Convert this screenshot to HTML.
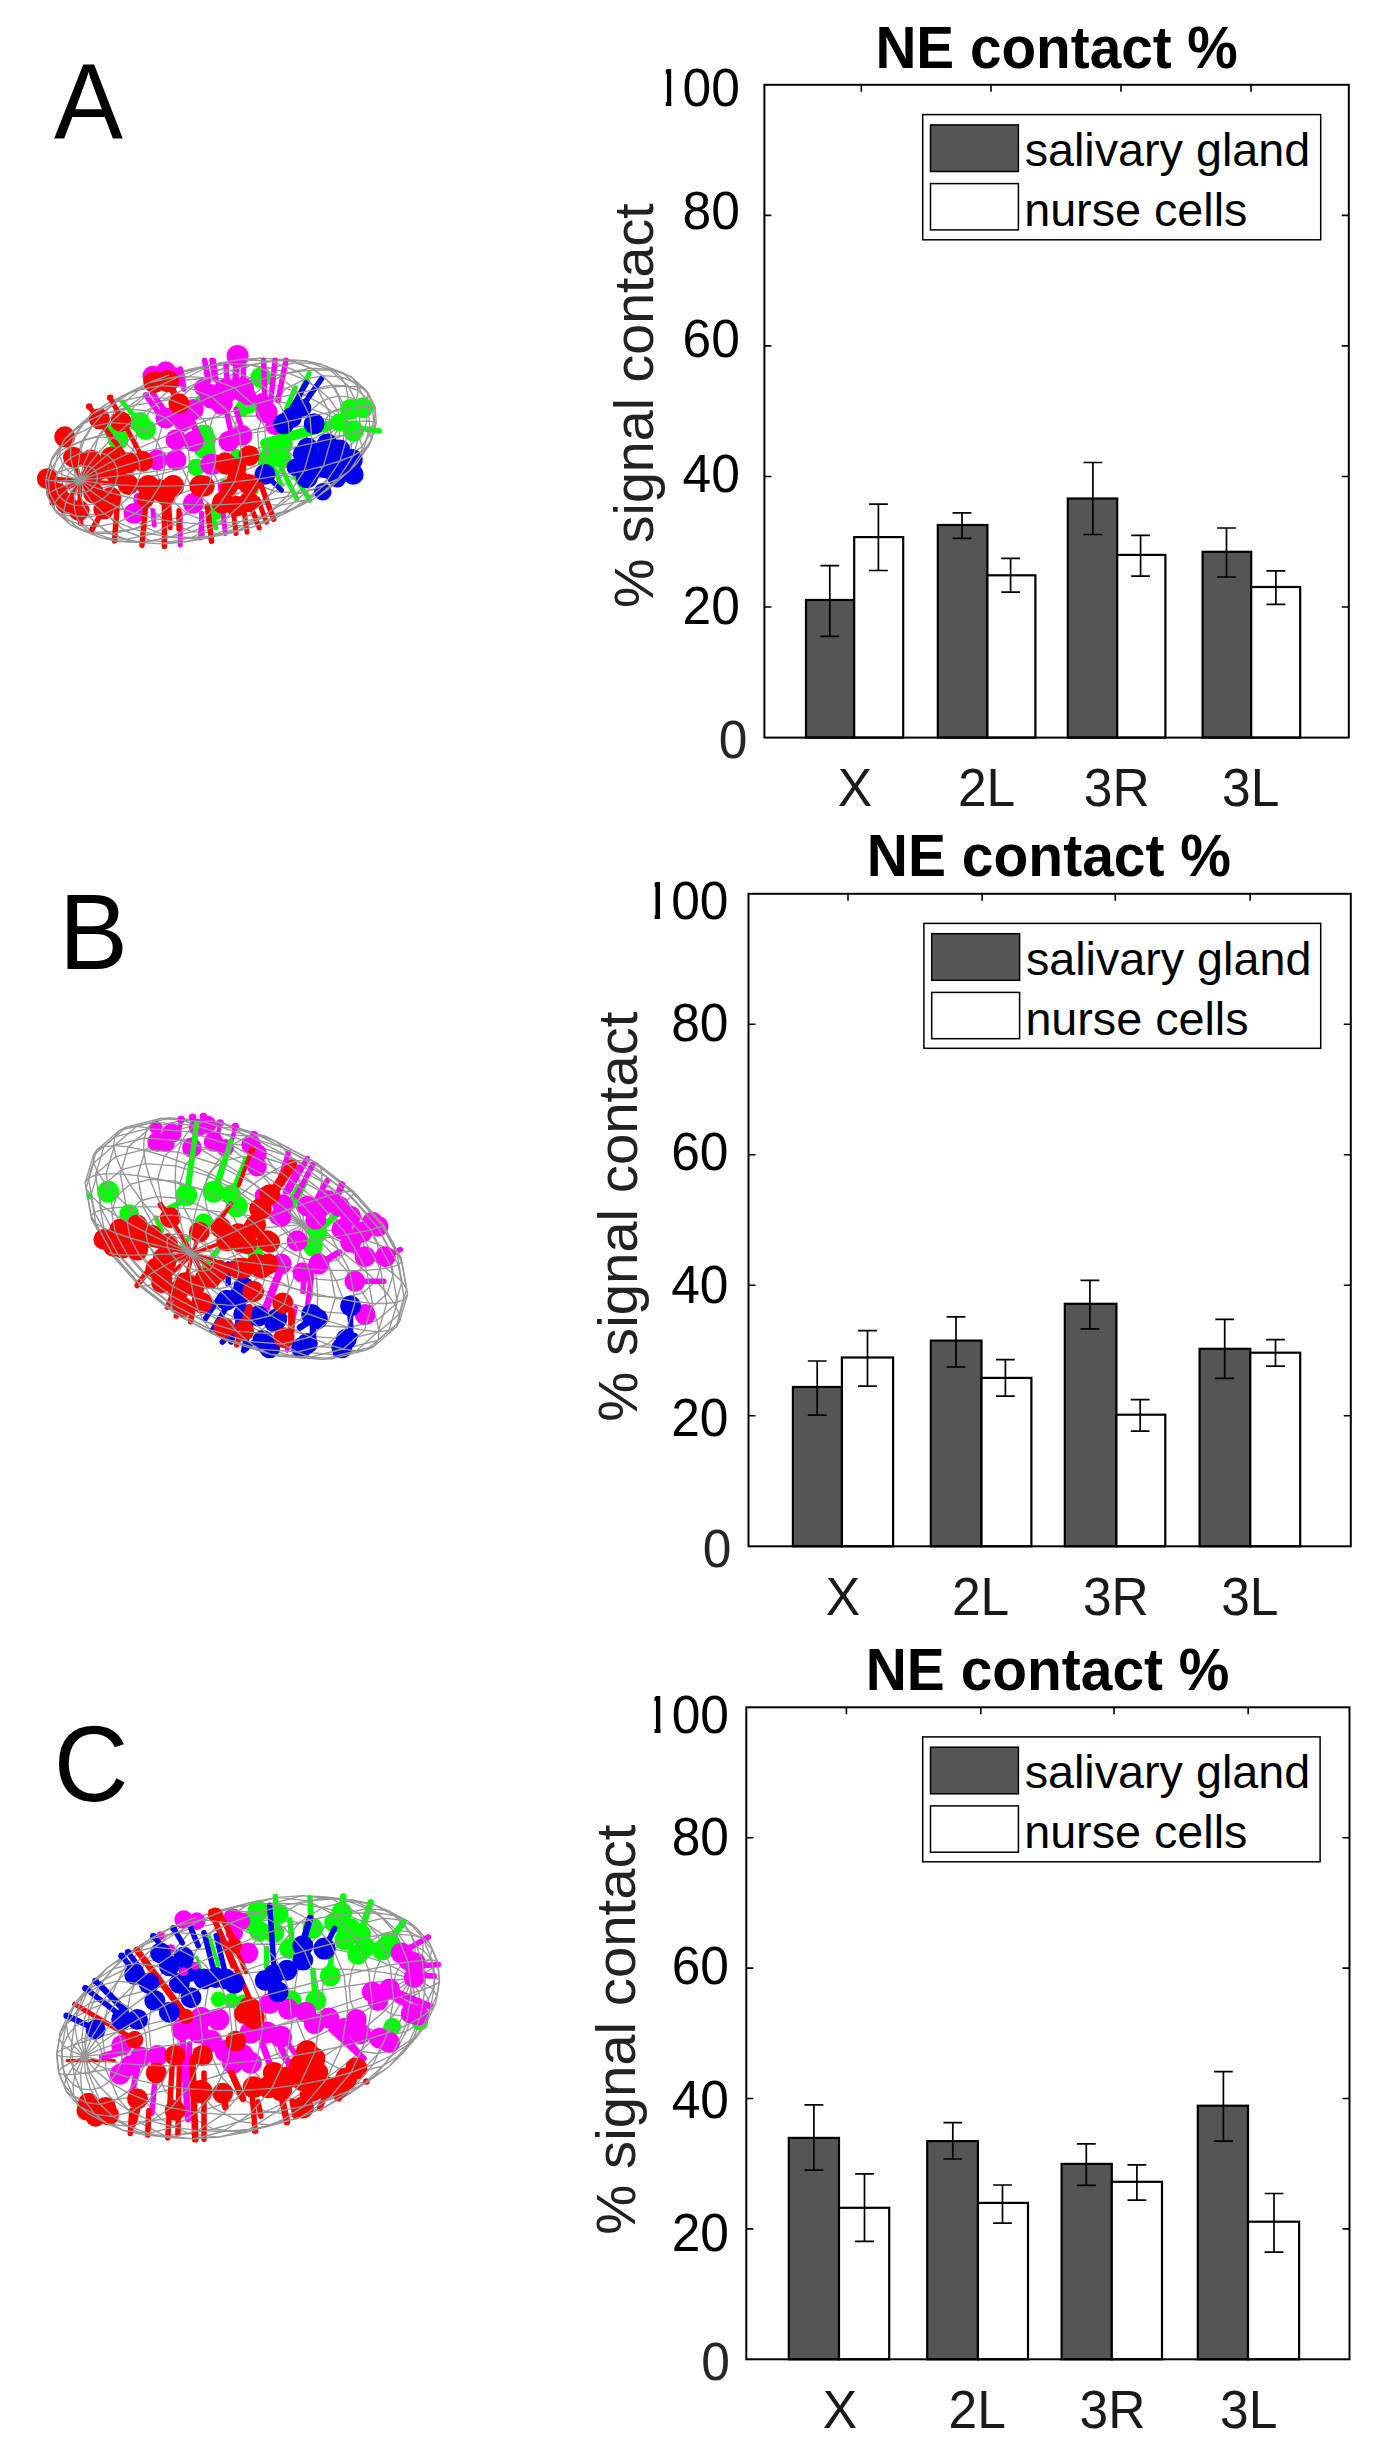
<!DOCTYPE html>
<html lang="en"><head><meta charset="utf-8"><title>NE contact figure</title>
<style>html,body{margin:0;padding:0;background:#fff}body{width:1384px;height:2446px;overflow:hidden}svg{display:block}text{font-family:'Liberation Sans', Arial, Helvetica, sans-serif}</style>
</head><body>
<svg width="1384" height="2446" viewBox="0 0 1384 2446">
<rect width="1384" height="2446" fill="#fff"/>
<text transform="translate(54.0 139.0) scale(1 1.045)" font-size="103.4">A</text>
<text transform="translate(59.0 968.7) scale(1 1.045)" font-size="103.4">B</text>
<text transform="translate(53.8 1800.5) scale(1 1.045)" font-size="103.4">C</text>
<g id="ellA" fill="none" stroke-linecap="round">
<path d="M48.4 496.0L53.9 496.0L63.3 495.0L76.4 492.8L92.7 489.7L112.0 485.6L133.7 480.6L157.3 474.9L182.3 468.6L207.9 461.9L233.6 454.9L258.8 447.9L282.8 440.9L305.0 434.1L324.9 427.8L342.0 422.0M47.0 477.0L52.3 474.3L61.6 471.0L74.5 467.3L90.8 463.1L110.0 458.7L131.8 454.1L155.4 449.4L180.5 444.7L206.3 440.2L232.2 435.9L257.6 432.1L281.9 428.7L304.4 425.8L324.6 423.6L342.0 422.0M52.5 457.4L58.7 451.9L68.6 446.4L82.0 441.0L98.6 435.9L117.9 431.1L139.6 426.8L163.0 423.1L187.5 420.1L212.7 417.8L237.8 416.4L262.3 415.8L285.5 416.1L306.8 417.3L325.8 419.2L342.0 422.0M72.4 431.2L83.7 423.5L98.2 416.6L115.4 410.5L134.9 405.4L156.3 401.4L179.1 398.7L202.7 397.2L226.4 397.1L249.8 398.3L272.3 400.7L293.2 404.5L312.1 409.3L328.5 415.2L342.0 422.0M105.5 404.6L121.4 396.4L139.5 389.5L159.4 384.2L180.5 380.5L202.4 378.5L224.5 378.3L246.2 379.9L267.1 383.3L286.6 388.3L304.3 394.8L319.6 402.8L332.3 411.9L342.0 422.0M168.7 375.1L188.9 369.5L209.6 366.0L230.4 364.5L250.8 365.2L270.1 368.0L288.0 372.9L304.0 379.6L317.7 388.2L328.8 398.2L336.9 409.6L342.0 422.0M260.6 358.2L279.0 359.3L295.7 362.6L310.4 368.1L322.6 375.7L332.1 385.1L338.5 396.2L341.9 408.6L342.0 422.0M320.6 364.2L332.1 369.5L340.7 376.8L346.0 386.0L348.0 396.8L346.7 408.9L342.0 422.0M351.1 376.8L356.4 382.9L358.2 390.7L356.3 400.0L350.9 410.5L342.0 422.0M368.3 393.4L367.4 398.8L362.6 405.5L354.0 413.3L342.0 422.0M375.2 407.2L372.7 409.5L366.2 412.7L355.9 416.9L342.0 422.0M376.3 423.0L373.6 421.7L366.8 421.0L356.2 421.2L342.0 422.0M371.7 439.2L370.0 434.2L364.4 429.6L354.9 425.5L342.0 422.0M357.4 462.7L361.7 454.3L362.3 445.9L359.1 437.5L352.3 429.5L342.0 422.0M329.8 488.0L340.1 477.7L347.3 466.8L351.2 455.5L351.5 444.1L348.5 432.8L342.0 422.0M272.5 519.5L290.2 510.4L305.9 499.9L319.3 488.1L330.0 475.4L337.8 462.2L342.4 448.6L343.8 435.1L342.0 422.0M181.1 542.6L201.5 539.2L222.1 533.6L242.4 525.9L262.0 516.4L280.3 505.3L296.9 492.8L311.4 479.4L323.4 465.2L332.6 450.7L338.9 436.2L342.0 422.0M115.6 541.0L132.2 542.0L150.7 540.7L170.7 537.3L191.7 531.7L213.2 524.1L234.6 514.7L255.4 503.7L275.1 491.5L293.3 478.2L309.4 464.3L323.1 450.1L334.1 435.8L342.0 422.0M79.7 529.4L91.8 531.8L106.7 532.1L124.3 530.5L143.9 526.9L165.2 521.4L187.7 514.2L210.7 505.4L233.7 495.3L256.2 484.1L277.6 472.1L297.3 459.6L314.9 446.9L329.9 434.2L342.0 422.0M56.6 512.6L63.4 515.0L73.7 515.9L87.5 515.2L104.3 512.9L123.7 509.1L145.3 503.8L168.5 497.3L192.7 489.6L217.4 480.9L241.9 471.6L265.7 461.7L288.1 451.5L308.6 441.4L326.7 431.4L342.0 422.0M48.4 496.0L47.0 477.0L52.5 457.4L64.6 439.3M56.6 512.6L48.4 496.0M53.9 496.0L52.3 474.3L58.7 451.9L72.4 431.2L92.2 414.0M79.7 529.4L63.4 515.0L53.9 496.0M63.3 495.0L61.6 471.0L68.6 446.4L83.7 423.5L105.5 404.6L131.8 391.6M115.6 541.0L91.8 531.8L73.7 515.9L63.3 495.0M76.4 492.8L74.5 467.3L82.0 441.0L98.2 416.6L121.4 396.4L149.5 382.5M132.2 542.0L106.7 532.1L87.5 515.2L76.4 492.8M92.7 489.7L90.8 463.1L98.6 435.9L115.4 410.5L139.5 389.5L168.7 375.1L199.9 368.4M181.1 542.6L150.7 540.7L124.3 530.5L104.3 512.9L92.7 489.7M112.0 485.6L110.0 458.7L117.9 431.1L134.9 405.4L159.4 384.2L188.9 369.5L220.5 362.8M201.5 539.2L170.7 537.3L143.9 526.9L123.7 509.1L112.0 485.6M133.7 480.6L131.8 454.1L139.6 426.8L156.3 401.4L180.5 380.5L209.6 366.0L240.9 359.4M222.1 533.6L191.7 531.7L165.2 521.4L145.3 503.8L133.7 480.6M157.3 474.9L155.4 449.4L163.0 423.1L179.1 398.7L202.4 378.5L230.4 364.5L260.6 358.2L289.8 360.0M272.5 519.5L242.4 525.9L213.2 524.1L187.7 514.2L168.5 497.3L157.3 474.9M182.3 468.6L180.5 444.7L187.5 420.1L202.7 397.2L224.5 378.3L250.8 365.2L279.0 359.3L306.4 361.0M290.2 510.4L262.0 516.4L234.6 514.7L210.7 505.4L192.7 489.6L182.3 468.6M207.9 461.9L206.3 440.2L212.7 417.8L226.4 397.1L246.2 379.9L270.1 368.0L295.7 362.6L320.6 364.2L342.3 372.6M329.8 488.0L305.9 499.9L280.3 505.3L255.4 503.7L233.7 495.3L217.4 480.9L207.9 461.9M233.6 454.9L232.2 435.9L237.8 416.4L249.8 398.3L267.1 383.3L288.0 372.9L310.4 368.1L332.1 369.5L351.1 376.8L365.4 389.4M357.4 462.7L340.1 477.7L319.3 488.1L296.9 492.8L275.1 491.5L256.2 484.1L241.9 471.6L233.6 454.9M258.8 447.9L257.6 432.1L262.3 415.8L272.3 400.7L286.6 388.3L304.0 379.6L322.6 375.7L340.7 376.8L356.4 382.9L368.3 393.4L375.2 407.2L376.3 423.0L371.7 439.2L361.7 454.3L347.3 466.8L330.0 475.4L311.4 479.4L293.3 478.2L277.6 472.1L265.7 461.7L258.8 447.9M282.8 440.9L281.9 428.7L285.5 416.1L293.2 404.5L304.3 394.8L317.7 388.2L332.1 385.1L346.0 386.0L358.2 390.7L367.4 398.8L372.7 409.5L373.6 421.7L370.0 434.2L362.3 445.9L351.2 455.5L337.8 462.2L323.4 465.2L309.4 464.3L297.3 459.6L288.1 451.5L282.8 440.9M305.0 434.1L304.4 425.8L306.8 417.3L312.1 409.3L319.6 402.8L328.8 398.2L338.5 396.2L348.0 396.8L356.3 400.0L362.6 405.5L366.2 412.7L366.8 421.0L364.4 429.6L359.1 437.5L351.5 444.1L342.4 448.6L332.6 450.7L323.1 450.1L314.9 446.9L308.6 441.4L305.0 434.1M324.9 427.8L324.6 423.6L325.8 419.2L328.5 415.2L332.3 411.9L336.9 409.6L341.9 408.6L346.7 408.9L350.9 410.5L354.0 413.3L355.9 416.9L356.2 421.2L354.9 425.5L352.3 429.5L348.5 432.8L343.8 435.1L338.9 436.2L334.1 435.8L329.9 434.2L326.7 431.4L324.9 427.8" stroke="#969696" stroke-width="1.35" stroke-linejoin="round"/>
<path d="M139.8 422.4L122.5 402.1" stroke="#0f0" stroke-width="4.95"/>
<circle cx="139.8" cy="422.4" r="10.450000000000001" fill="#0f0"/>
<circle cx="145.6" cy="429.6" r="10.450000000000001" fill="#0f0"/>
<circle cx="118.2" cy="439.7" r="10.450000000000001" fill="#0f0"/>
<circle cx="112.4" cy="432.5" r="7.700000000000001" fill="#0f0"/>
<circle cx="205.6" cy="439.7" r="10.450000000000001" fill="#0f0"/>
<circle cx="202.0" cy="432.5" r="7.700000000000001" fill="#0f0"/>
<circle cx="196.2" cy="467.2" r="8.8" fill="#0f0"/>
<circle cx="200.5" cy="400.7" r="5.5" fill="#0f0"/>
<circle cx="216.4" cy="512.0" r="7.700000000000001" fill="#0f0"/>
<circle cx="207.7" cy="451.3" r="7.700000000000001" fill="#0f0"/>
<circle cx="260.7" cy="377.6" r="10.450000000000001" fill="#0f0"/>
<circle cx="247.7" cy="403.6" r="10.450000000000001" fill="#0f0"/>
<circle cx="241.9" cy="409.4" r="7.700000000000001" fill="#0f0"/>
<circle cx="272.3" cy="449.8" r="10.450000000000001" fill="#0f0"/>
<circle cx="280.9" cy="457.1" r="10.450000000000001" fill="#0f0"/>
<circle cx="267.9" cy="459.9" r="10.450000000000001" fill="#0f0"/>
<circle cx="282.4" cy="444.0" r="10.450000000000001" fill="#0f0"/>
<path d="M265.0 443.3L330.1 425.3" stroke="#0f0" stroke-width="9.9"/>
<path d="M292.5 420.9L304.0 407.9" stroke="#0f0" stroke-width="7.700000000000001"/>
<path d="M295.4 387.7L286.7 407.9" stroke="#0f0" stroke-width="4.95"/>
<path d="M309.1 373.2L298.3 397.8" stroke="#0f0" stroke-width="4.95"/>
<path d="M280.9 467.2L296.8 499.0" stroke="#0f0" stroke-width="4.95"/>
<path d="M289.6 467.2L309.8 500.4" stroke="#0f0" stroke-width="4.95"/>
<path d="M275.1 470.1L280.9 484.5" stroke="#0f0" stroke-width="4.95"/>
<circle cx="350.3" cy="409.4" r="10.450000000000001" fill="#0f0"/>
<circle cx="362.6" cy="407.9" r="10.450000000000001" fill="#0f0"/>
<circle cx="353.2" cy="431.0" r="10.450000000000001" fill="#0f0"/>
<circle cx="338.7" cy="422.4" r="8.8" fill="#0f0"/>
<path d="M330.1 423.8L379.2 431.0" stroke="#0f0" stroke-width="5.5"/>
<path d="M327.2 425.3L367.6 405.0" stroke="#0f0" stroke-width="5.5"/>
<circle cx="204.3" cy="448.4" r="10.450000000000001" fill="#0f0"/>
<circle cx="205.8" cy="432.5" r="7.700000000000001" fill="#0f0"/>
<circle cx="236.1" cy="454.2" r="5.5" fill="#0f0"/>
<path d="M223.1 481.6L228.9 493.2" stroke="#0f0" stroke-width="4.95"/>
<path d="M247.7 486.0L256.4 491.7" stroke="#0f0" stroke-width="4.4"/>
<circle cx="213.0" cy="513.4" r="6.6000000000000005" fill="#0f0"/>
<path d="M211.6 510.5L215.9 527.9" stroke="#0f0" stroke-width="4.95"/>
<circle cx="152.8" cy="376.1" r="10.450000000000001" fill="#f0f"/>
<circle cx="165.8" cy="371.8" r="10.450000000000001" fill="#f0f"/>
<circle cx="174.5" cy="377.6" r="10.450000000000001" fill="#f0f"/>
<path d="M180.3 368.9L183.9 389.1" stroke="#f0f" stroke-width="5.5"/>
<path d="M204.9 360.2L209.2 380.5" stroke="#f0f" stroke-width="4.95"/>
<path d="M213.5 360.2L216.4 380.5" stroke="#f0f" stroke-width="4.95"/>
<path d="M145.6 394.9L160.1 415.1" stroke="#f0f" stroke-width="5.5"/>
<path d="M152.8 393.5L165.8 412.3" stroke="#f0f" stroke-width="5.5"/>
<circle cx="165.8" cy="418.0" r="10.450000000000001" fill="#f0f"/>
<circle cx="193.3" cy="409.4" r="10.450000000000001" fill="#f0f"/>
<circle cx="183.2" cy="420.9" r="10.450000000000001" fill="#f0f"/>
<circle cx="176.0" cy="439.7" r="10.450000000000001" fill="#f0f"/>
<circle cx="193.3" cy="441.2" r="10.450000000000001" fill="#f0f"/>
<circle cx="157.2" cy="459.9" r="10.450000000000001" fill="#f0f"/>
<circle cx="176.0" cy="459.9" r="10.450000000000001" fill="#f0f"/>
<circle cx="210.6" cy="464.3" r="10.450000000000001" fill="#f0f"/>
<path d="M191.8 420.9L200.5 441.2" stroke="#f0f" stroke-width="6.6000000000000005"/>
<circle cx="134.0" cy="513.4" r="10.450000000000001" fill="#f0f"/>
<path d="M152.8 510.5L154.3 525.0" stroke="#f0f" stroke-width="4.95"/>
<path d="M180.3 513.4L180.3 545.2" stroke="#f0f" stroke-width="4.95"/>
<path d="M202.0 513.4L200.5 538.0" stroke="#f0f" stroke-width="4.95"/>
<circle cx="193.3" cy="503.3" r="10.450000000000001" fill="#f0f"/>
<circle cx="139.8" cy="499.0" r="6.6000000000000005" fill="#f0f"/>
<circle cx="237.6" cy="355.9" r="11.0" fill="#f0f"/>
<path d="M236.8 355.9L235.4 383.4" stroke="#f0f" stroke-width="6.6000000000000005"/>
<path d="M243.4 361.7L243.4 383.4" stroke="#f0f" stroke-width="5.5"/>
<path d="M211.6 360.2L214.5 379.0" stroke="#f0f" stroke-width="4.95"/>
<path d="M204.3 360.2L207.2 377.6" stroke="#f0f" stroke-width="4.95"/>
<path d="M226.0 366.0L227.5 383.4" stroke="#f0f" stroke-width="5.5"/>
<path d="M263.6 360.2L265.0 400.7" stroke="#f0f" stroke-width="5.5"/>
<path d="M275.1 360.2L270.8 400.7" stroke="#f0f" stroke-width="5.5"/>
<path d="M286.0 360.2L278.0 400.7" stroke="#f0f" stroke-width="5.5"/>
<circle cx="211.6" cy="396.4" r="12.100000000000001" fill="#f0f"/>
<circle cx="226.0" cy="390.6" r="12.100000000000001" fill="#f0f"/>
<circle cx="241.9" cy="389.1" r="12.100000000000001" fill="#f0f"/>
<circle cx="221.7" cy="403.6" r="11.0" fill="#f0f"/>
<circle cx="247.7" cy="396.4" r="8.8" fill="#f0f"/>
<circle cx="202.9" cy="387.7" r="8.8" fill="#f0f"/>
<circle cx="266.5" cy="412.3" r="11.0" fill="#f0f"/>
<circle cx="275.1" cy="425.3" r="9.9" fill="#f0f"/>
<circle cx="262.1" cy="400.7" r="7.700000000000001" fill="#f0f"/>
<circle cx="228.9" cy="441.2" r="10.450000000000001" fill="#f0f"/>
<circle cx="241.9" cy="435.4" r="10.450000000000001" fill="#f0f"/>
<path d="M226.0 409.4L231.1 432.5" stroke="#f0f" stroke-width="5.5"/>
<path d="M236.1 409.4L241.9 429.6" stroke="#f0f" stroke-width="5.5"/>
<circle cx="213.0" cy="464.3" r="10.450000000000001" fill="#f0f"/>
<path d="M220.2 484.5L225.3 533.6" stroke="#f0f" stroke-width="4.95"/>
<path d="M201.4 513.4L202.2 535.1" stroke="#f0f" stroke-width="4.95"/>
<path d="M321.4 379.0L301.2 407.9" stroke="#00e" stroke-width="5.5"/>
<path d="M306.9 381.9L289.6 412.3" stroke="#00e" stroke-width="5.5"/>
<circle cx="283.8" cy="423.8" r="10.450000000000001" fill="#00e"/>
<circle cx="302.6" cy="407.9" r="8.8" fill="#00e"/>
<circle cx="314.2" cy="423.8" r="10.450000000000001" fill="#00e"/>
<circle cx="327.2" cy="444.0" r="10.450000000000001" fill="#00e"/>
<circle cx="304.0" cy="454.2" r="11.0" fill="#00e"/>
<circle cx="351.7" cy="459.9" r="11.0" fill="#00e"/>
<circle cx="353.2" cy="474.4" r="10.450000000000001" fill="#00e"/>
<circle cx="306.9" cy="477.3" r="11.0" fill="#00e"/>
<circle cx="325.7" cy="467.2" r="11.0" fill="#00e"/>
<circle cx="338.7" cy="455.6" r="8.8" fill="#00e"/>
<path d="M265.0 474.4L281.6 490.3" stroke="#00e" stroke-width="4.95"/>
<circle cx="265.0" cy="474.4" r="10.450000000000001" fill="#00e"/>
<circle cx="322.8" cy="491.7" r="8.8" fill="#00e"/>
<circle cx="337.3" cy="478.7" r="8.8" fill="#00e"/>
<circle cx="295.4" cy="467.2" r="8.8" fill="#00e"/>
<circle cx="307.6" cy="448.0" r="10.450000000000001" fill="#00e"/>
<circle cx="323.8" cy="458.1" r="10.450000000000001" fill="#00e"/>
<circle cx="339.9" cy="450.0" r="10.450000000000001" fill="#00e"/>
<circle cx="311.6" cy="470.2" r="10.450000000000001" fill="#00e"/>
<circle cx="335.9" cy="474.3" r="10.450000000000001" fill="#00e"/>
<circle cx="291.4" cy="417.6" r="10.450000000000001" fill="#00e"/>
<circle cx="345.0" cy="462.0" r="10.450000000000001" fill="#00e"/>
<circle cx="64.7" cy="436.8" r="10.450000000000001" fill="#f00"/>
<path d="M47.3 478.7L80.6 480.9" stroke="#f00" stroke-width="4.95"/>
<circle cx="47.3" cy="478.7" r="10.450000000000001" fill="#f00"/>
<path d="M73.4 457.1L80.6 480.9" stroke="#f00" stroke-width="4.4"/>
<circle cx="73.4" cy="457.1" r="10.450000000000001" fill="#f00"/>
<path d="M90.7 459.9L80.6 480.9" stroke="#f00" stroke-width="4.4"/>
<circle cx="90.7" cy="459.9" r="10.450000000000001" fill="#f00"/>
<path d="M110.9 457.1L80.6 480.9" stroke="#f00" stroke-width="4.4"/>
<circle cx="110.9" cy="457.1" r="10.450000000000001" fill="#f00"/>
<path d="M128.3 462.8L80.6 480.9" stroke="#f00" stroke-width="4.4"/>
<circle cx="128.3" cy="462.8" r="10.450000000000001" fill="#f00"/>
<path d="M142.7 461.4L80.6 480.9" stroke="#f00" stroke-width="4.4"/>
<circle cx="142.7" cy="461.4" r="10.450000000000001" fill="#f00"/>
<path d="M128.3 484.5L80.6 480.9" stroke="#f00" stroke-width="4.4"/>
<circle cx="128.3" cy="484.5" r="10.450000000000001" fill="#f00"/>
<path d="M57.5 493.2L80.6 480.9" stroke="#f00" stroke-width="4.4"/>
<circle cx="57.5" cy="493.2" r="10.450000000000001" fill="#f00"/>
<path d="M66.1 503.3L80.6 480.9" stroke="#f00" stroke-width="4.4"/>
<circle cx="66.1" cy="503.3" r="10.450000000000001" fill="#f00"/>
<path d="M79.1 510.5L80.6 480.9" stroke="#f00" stroke-width="4.4"/>
<circle cx="79.1" cy="510.5" r="10.450000000000001" fill="#f00"/>
<path d="M103.7 509.1L80.6 480.9" stroke="#f00" stroke-width="4.4"/>
<circle cx="103.7" cy="509.1" r="10.450000000000001" fill="#f00"/>
<path d="M110.9 497.5L80.6 480.9" stroke="#f00" stroke-width="4.4"/>
<circle cx="110.9" cy="497.5" r="10.450000000000001" fill="#f00"/>
<path d="M97.9 470.1L80.6 480.9" stroke="#f00" stroke-width="4.4"/>
<circle cx="97.9" cy="470.1" r="10.450000000000001" fill="#f00"/>
<path d="M116.7 474.4L80.6 480.9" stroke="#f00" stroke-width="4.4"/>
<circle cx="116.7" cy="474.4" r="10.450000000000001" fill="#f00"/>
<path d="M93.6 493.2L80.6 480.9" stroke="#f00" stroke-width="4.4"/>
<circle cx="93.6" cy="493.2" r="10.450000000000001" fill="#f00"/>
<circle cx="99.4" cy="418.8" r="10.450000000000001" fill="#f00"/>
<circle cx="121.0" cy="421.6" r="10.450000000000001" fill="#f00"/>
<path d="M89.2 406.5L123.9 454.2" stroke="#f00" stroke-width="4.95"/>
<path d="M110.2 397.8L141.3 455.6" stroke="#f00" stroke-width="4.95"/>
<circle cx="89.2" cy="406.5" r="3.3000000000000003" fill="#f00"/>
<circle cx="110.2" cy="397.8" r="3.3000000000000003" fill="#f00"/>
<circle cx="154.3" cy="381.9" r="11.0" fill="#f00"/>
<circle cx="168.0" cy="381.2" r="11.0" fill="#f00"/>
<circle cx="178.8" cy="403.6" r="10.450000000000001" fill="#f00"/>
<path d="M171.6 387.7L177.4 400.7" stroke="#f00" stroke-width="6.6000000000000005"/>
<path d="M117.4 503.3L114.5 540.9" stroke="#f00" stroke-width="5.5"/>
<path d="M145.6 506.2L142.0 545.2" stroke="#f00" stroke-width="5.5"/>
<path d="M164.4 501.8L164.4 546.6" stroke="#f00" stroke-width="5.5"/>
<path d="M178.8 510.5L178.8 529.3" stroke="#f00" stroke-width="4.95"/>
<path d="M207.7 506.2L211.4 541.6" stroke="#f00" stroke-width="4.95"/>
<path d="M103.7 509.1L92.1 529.3" stroke="#f00" stroke-width="5.5"/>
<path d="M79.1 510.5L80.6 523.5" stroke="#f00" stroke-width="5.5"/>
<path d="M168.7 501.8L170.2 527.9" stroke="#f00" stroke-width="4.95"/>
<path d="M66.1 503.3L51.7 503.3" stroke="#f00" stroke-width="4.4"/>
<circle cx="148.5" cy="486.0" r="11.0" fill="#f00"/>
<circle cx="173.1" cy="486.0" r="11.0" fill="#f00"/>
<circle cx="160.1" cy="490.3" r="11.0" fill="#f00"/>
<circle cx="200.5" cy="486.0" r="11.0" fill="#f00"/>
<circle cx="222.2" cy="503.3" r="10.450000000000001" fill="#f00"/>
<circle cx="225.1" cy="462.8" r="10.450000000000001" fill="#f00"/>
<circle cx="145.6" cy="499.0" r="8.8" fill="#f00"/>
<circle cx="165.8" cy="497.5" r="8.8" fill="#f00"/>
<circle cx="249.1" cy="455.6" r="10.450000000000001" fill="#f00"/>
<circle cx="226.0" cy="464.3" r="10.450000000000001" fill="#f00"/>
<circle cx="237.6" cy="478.7" r="10.450000000000001" fill="#f00"/>
<circle cx="249.1" cy="484.5" r="10.450000000000001" fill="#f00"/>
<circle cx="223.1" cy="501.8" r="10.450000000000001" fill="#f00"/>
<circle cx="236.1" cy="506.2" r="10.450000000000001" fill="#f00"/>
<circle cx="249.1" cy="501.8" r="10.450000000000001" fill="#f00"/>
<circle cx="204.3" cy="486.0" r="10.450000000000001" fill="#f00"/>
<circle cx="237.6" cy="467.2" r="8.8" fill="#f00"/>
<circle cx="228.9" cy="487.4" r="8.8" fill="#f00"/>
<path d="M260.7 484.5L273.7 519.2" stroke="#f00" stroke-width="5.5"/>
<path d="M249.1 501.8L259.2 527.9" stroke="#f00" stroke-width="4.95"/>
<path d="M243.4 506.2L247.0 532.2" stroke="#f00" stroke-width="4.95"/>
<path d="M233.2 510.5L236.1 533.6" stroke="#f00" stroke-width="4.95"/>
<path d="M207.2 506.2L211.6 540.9" stroke="#f00" stroke-width="5.5"/>
<path d="M257.8 499.0L266.5 522.1" stroke="#f00" stroke-width="4.95"/>
<path d="M80.0 480.0L66.1 485.1L55.8 489.3L49.3 492.5L46.8 494.8L48.4 496.0M80.0 480.0L65.8 480.8L55.2 481.0L48.4 480.3L45.7 479.0L47.0 477.0M80.0 480.0L67.1 476.5L57.6 472.4L52.0 467.8L50.3 462.8L52.5 457.4M80.0 480.0L69.7 472.5L62.9 464.5L59.7 456.1L60.3 447.7L64.6 439.3L72.4 431.2M80.0 480.0L73.5 469.2L70.5 457.9L70.8 446.5L74.7 435.2L81.9 424.3L92.2 414.0L105.5 404.6M80.0 480.0L78.2 466.9L79.6 453.4L84.2 439.8L92.0 426.6L102.7 413.9L116.1 402.1L131.8 391.6L149.5 382.5L168.7 375.1M80.0 480.0L83.1 465.8L89.4 451.3L98.6 436.8L110.6 422.6L125.1 409.2L141.7 396.7L160.0 385.6L179.6 376.1L199.9 368.4L220.5 362.8L240.9 359.4L260.6 358.2M80.0 480.0L87.9 466.2L98.9 451.9L112.6 437.7L128.7 423.8L146.9 410.5L166.6 398.3L187.4 387.3L208.8 377.9L230.3 370.3L251.3 364.7L271.3 361.3L289.8 360.0L306.4 361.0L320.6 364.2M80.0 480.0L92.1 467.8L107.1 455.1L124.7 442.4L144.4 429.9L165.8 417.9L188.3 406.7L211.3 396.6L234.3 387.8L256.8 380.6L278.1 375.1L297.7 371.5L315.3 369.9L330.2 370.2L342.3 372.6L351.1 376.8M80.0 480.0L95.3 470.6L113.4 460.6L133.9 450.5L156.3 440.3L180.1 430.4L204.6 421.1L229.3 412.4L253.5 404.7L276.7 398.2L298.3 392.9L317.7 389.1L334.5 386.8L348.3 386.1L358.6 387.0L365.4 389.4L368.3 393.4M80.0 480.0L97.1 474.2L117.0 467.9L139.2 461.1L163.2 454.1L188.4 447.1L214.1 440.1L239.7 433.4L264.7 427.1L288.3 421.4L310.0 416.4L329.3 412.3L345.6 409.2L358.7 407.0L368.1 406.0L373.6 406.0L375.2 407.2M80.0 480.0L97.4 478.4L117.6 476.2L140.1 473.3L164.4 469.9L189.8 466.1L215.7 461.8L241.5 457.3L266.6 452.6L290.2 447.9L312.0 443.3L331.2 438.9L347.5 434.7L360.4 431.0L369.7 427.7L375.0 425.0L376.3 423.0M80.0 480.0L96.2 482.8L115.2 484.7L136.5 485.9L159.7 486.2L184.2 485.6L209.3 484.2L234.5 481.9L259.0 478.9L282.4 475.2L304.1 470.9L323.4 466.1L340.0 461.0L353.4 455.6L363.3 450.1L369.5 444.6L371.7 439.2M80.0 480.0L93.5 486.8L109.9 492.7L128.8 497.5L149.7 501.3L172.2 503.7L195.6 504.9L219.3 504.8L242.9 503.3L265.7 500.6L287.1 496.6L306.6 491.5L323.8 485.4L338.3 478.5L349.6 470.8L357.4 462.7M80.0 480.0L89.7 490.1L102.4 499.2L117.7 507.2L135.4 513.7L154.9 518.7L175.8 522.1L197.5 523.7L219.6 523.5L241.5 521.5L262.6 517.8L282.5 512.5L300.6 505.6L316.5 497.4L329.8 488.0M80.0 480.0L85.1 492.4L93.2 503.8L104.3 513.8L118.0 522.4L134.0 529.1L151.9 534.0L171.2 536.8L191.6 537.5L212.4 536.0L233.1 532.5L253.3 526.9L272.5 519.5M80.0 480.0L80.1 493.4L83.5 505.8L89.9 516.9L99.4 526.3L111.6 533.9L126.3 539.4L143.0 542.7L161.4 543.8L181.1 542.6M80.0 480.0L75.3 493.1L74.0 505.2L76.0 516.0L81.3 525.2L89.9 532.5L101.4 537.8L115.6 541.0M80.0 480.0L71.1 491.5L65.7 502.0L63.8 511.3L65.6 519.1L70.9 525.2L79.7 529.4M80.0 480.0L68.0 488.7L59.4 496.5L54.6 503.2L53.7 508.6L56.6 512.6M66.1 485.1L65.8 480.8L67.1 476.5L69.7 472.5L73.5 469.2L78.2 466.9L83.1 465.8L87.9 466.2L92.1 467.8L95.3 470.6L97.1 474.2L97.4 478.4L96.2 482.8L93.5 486.8L89.7 490.1L85.1 492.4L80.1 493.4L75.3 493.1L71.1 491.5L68.0 488.7L66.1 485.1M55.8 489.3L55.2 481.0L57.6 472.4L62.9 464.5L70.5 457.9L79.6 453.4L89.4 451.3L98.9 451.9L107.1 455.1L113.4 460.6L117.0 467.9L117.6 476.2L115.2 484.7L109.9 492.7L102.4 499.2L93.2 503.8L83.5 505.8L74.0 505.2L65.7 502.0L59.4 496.5L55.8 489.3M49.3 492.5L48.4 480.3L52.0 467.8L59.7 456.1L70.8 446.5L84.2 439.8L98.6 436.8L112.6 437.7L124.7 442.4L133.9 450.5L139.2 461.1L140.1 473.3L136.5 485.9L128.8 497.5L117.7 507.2L104.3 513.8L89.9 516.9L76.0 516.0L63.8 511.3L54.6 503.2L49.3 492.5M46.8 494.8L45.7 479.0L50.3 462.8L60.3 447.7L74.7 435.2L92.0 426.6L110.6 422.6L128.7 423.8L144.4 429.9L156.3 440.3L163.2 454.1L164.4 469.9L159.7 486.2L149.7 501.3L135.4 513.7L118.0 522.4L99.4 526.3L81.3 525.2L65.6 519.1L53.7 508.6L46.8 494.8M64.6 439.3L81.9 424.3L102.7 413.9L125.1 409.2L146.9 410.5L165.8 417.9L180.1 430.4L188.4 447.1L189.8 466.1L184.2 485.6L172.2 503.7L154.9 518.7L134.0 529.1L111.6 533.9L89.9 532.5L70.9 525.2L56.6 512.6M92.2 414.0L116.1 402.1L141.7 396.7L166.6 398.3L188.3 406.7L204.6 421.1L214.1 440.1L215.7 461.8L209.3 484.2L195.6 504.9L175.8 522.1L151.9 534.0L126.3 539.4L101.4 537.8L79.7 529.4M131.8 391.6L160.0 385.6L187.4 387.3L211.3 396.6L229.3 412.4L239.7 433.4L241.5 457.3L234.5 481.9L219.3 504.8L197.5 523.7L171.2 536.8L143.0 542.7L115.6 541.0M149.5 382.5L179.6 376.1L208.8 377.9L234.3 387.8L253.5 404.7L264.7 427.1L266.6 452.6L259.0 478.9L242.9 503.3L219.6 523.5L191.6 537.5L161.4 543.8L132.2 542.0M199.9 368.4L230.3 370.3L256.8 380.6L276.7 398.2L288.3 421.4L290.2 447.9L282.4 475.2L265.7 500.6L241.5 521.5L212.4 536.0L181.1 542.6M220.5 362.8L251.3 364.7L278.1 375.1L298.3 392.9L310.0 416.4L312.0 443.3L304.1 470.9L287.1 496.6L262.6 517.8L233.1 532.5L201.5 539.2M240.9 359.4L271.3 361.3L297.7 371.5L317.7 389.1L329.3 412.3L331.2 438.9L323.4 466.1L306.6 491.5L282.5 512.5L253.3 526.9L222.1 533.6M289.8 360.0L315.3 369.9L334.5 386.8L345.6 409.2L347.5 434.7L340.0 461.0L323.8 485.4L300.6 505.6L272.5 519.5M306.4 361.0L330.2 370.2L348.3 386.1L358.7 407.0L360.4 431.0L353.4 455.6L338.3 478.5L316.5 497.4L290.2 510.4M342.3 372.6L358.6 387.0L368.1 406.0L369.7 427.7L363.3 450.1L349.6 470.8L329.8 488.0M365.4 389.4L373.6 406.0L375.0 425.0L369.5 444.6L357.4 462.7" stroke="#969696" stroke-width="1.35" stroke-linejoin="round"/>
</g>
<g id="ellB" fill="none" stroke-linecap="round">
<path d="M96.8 1149.9L103.9 1146.6L114.5 1145.6L128.4 1146.8L145.2 1150.3L164.5 1156.0L185.8 1163.7L208.6 1173.2L232.3 1184.4L256.4 1196.9L280.2 1210.4L303.2 1224.6M126.4 1127.1L136.7 1126.3L149.8 1128.2L165.3 1132.9L182.7 1140.2L201.7 1149.9L221.8 1161.7L242.5 1175.5L263.3 1190.8L283.7 1207.3L303.2 1224.6M170.5 1117.8L182.4 1120.1L195.7 1125.2L210.4 1133.2L225.9 1143.8L241.9 1156.7L258.1 1171.6L273.9 1188.2L289.1 1206.0L303.2 1224.6M222.9 1123.1L233.7 1128.1L244.9 1135.8L256.0 1146.0L267.0 1158.5L277.4 1173.0L287.1 1189.2L295.7 1206.5L303.2 1224.6M275.5 1141.1L282.8 1147.6L289.2 1156.3L294.5 1167.1L298.7 1179.7L301.6 1193.7L303.1 1208.8L303.2 1224.6M316.9 1163.0L320.4 1167.5L322.0 1173.8L321.8 1181.6L319.8 1190.8L315.9 1201.3L310.3 1212.6L303.2 1224.6M354.0 1193.6L351.4 1196.5L346.3 1200.5L338.7 1205.5L328.8 1211.2L316.9 1217.7L303.2 1224.6M380.4 1223.3L374.5 1222.5L365.4 1222.1L353.5 1222.1L338.8 1222.6L322.0 1223.4L303.2 1224.6M401.2 1257.9L396.9 1253.6L388.9 1249.0L377.4 1244.2L362.7 1239.2L345.2 1234.2L325.1 1229.3L303.2 1224.6M406.7 1288.8L402.0 1281.7L393.3 1273.6L381.1 1264.6L365.6 1254.9L347.1 1244.9L326.1 1234.7L303.2 1224.6M399.5 1321.8L399.1 1314.2L395.1 1304.8L387.3 1293.7L376.1 1281.3L361.7 1267.9L344.5 1253.7L324.8 1239.2L303.2 1224.6M373.8 1346.5L378.1 1340.3L379.1 1331.6L376.9 1320.6L371.4 1307.5L362.9 1292.8L351.5 1276.7L337.5 1259.7L321.3 1242.2L303.2 1224.6M332.2 1358.7L340.0 1355.0L345.5 1348.5L348.6 1339.2L349.2 1327.5L347.2 1313.6L342.8 1297.9L336.0 1280.6L326.9 1262.4L315.9 1243.6L303.2 1224.6M280.2 1356.3L289.6 1355.5L297.9 1351.9L305.0 1345.5L310.7 1336.4L314.7 1325.0L317.1 1311.4L317.7 1296.0L316.6 1279.2L313.8 1261.4L309.3 1243.1L303.2 1224.6M225.4 1340.2L233.9 1341.9L242.7 1340.9L251.7 1337.5L260.5 1331.6L268.9 1323.4L276.8 1313.2L284.0 1301.1L290.2 1287.4L295.3 1272.6L299.3 1256.9L301.9 1240.8L303.2 1224.6M181.1 1316.8L188.0 1317.5L196.2 1316.3L205.7 1313.2L216.2 1308.2L227.5 1301.5L239.2 1293.2L251.1 1283.6L262.9 1272.9L274.2 1261.4L284.9 1249.3L294.7 1236.9L303.2 1224.6M138.9 1285.5L141.6 1286.2L146.9 1285.7L154.7 1284.1L164.7 1281.3L176.7 1277.5L190.4 1272.8L205.6 1267.2L221.7 1260.9L238.4 1254.0L255.4 1246.8L272.1 1239.3L288.1 1231.9L303.2 1224.6M109.8 1252.8L110.6 1251.3L114.7 1249.5L122.1 1247.4L132.5 1245.1L145.7 1242.6L161.4 1240.1L179.2 1237.5L198.6 1234.9L219.3 1232.4L240.6 1230.1L262.0 1228.0L283.1 1226.1L303.2 1224.6M91.2 1215.6L94.5 1212.4L101.6 1209.9L112.3 1208.0L126.3 1206.9L143.2 1206.6L162.7 1207.1L184.2 1208.4L207.3 1210.4L231.3 1213.1L255.7 1216.4L279.9 1220.3L303.2 1224.6M85.2 1182.6L88.4 1178.1L95.4 1175.1L106.1 1173.7L120.3 1173.9L137.6 1175.7L157.6 1179.0L179.8 1183.8L203.6 1190.0L228.4 1197.3L253.8 1205.7L278.9 1214.8L303.2 1224.6M138.9 1285.5L109.8 1252.8L91.6 1219.3M225.4 1340.2L181.1 1316.8L141.6 1286.2L110.6 1251.3L91.2 1215.6L85.2 1182.6L93.3 1155.4M96.8 1149.9L119.0 1130.7M280.2 1356.3L233.9 1341.9L188.0 1317.5L146.9 1285.7L114.7 1249.5L94.5 1212.4L88.4 1178.1L96.8 1149.9M103.9 1146.6L126.4 1127.1L160.6 1118.5M332.2 1358.7L289.6 1355.5L242.7 1340.9L196.2 1316.3L154.7 1284.1L122.1 1247.4L101.6 1209.9L95.4 1175.1L103.9 1146.6M114.5 1145.6L136.7 1126.3L170.5 1117.8L212.6 1120.9M373.8 1346.5L340.0 1355.0L297.9 1351.9L251.7 1337.5L205.7 1313.2L164.7 1281.3L132.5 1245.1L112.3 1208.0L106.1 1173.7L114.5 1145.6M128.4 1146.8L149.8 1128.2L182.4 1120.1L222.9 1123.1L267.4 1137.0M399.5 1321.8L378.1 1340.3L345.5 1348.5L305.0 1345.5L260.5 1331.6L216.2 1308.2L176.7 1277.5L145.7 1242.6L126.3 1206.9L120.3 1173.9L128.4 1146.8M145.2 1150.3L165.3 1132.9L195.7 1125.2L233.7 1128.1L275.5 1141.1L316.9 1163.0L353.9 1191.7M401.2 1257.9L406.7 1288.8L399.1 1314.2L379.1 1331.6L348.6 1339.2L310.7 1336.4L268.9 1323.4L227.5 1301.5L190.4 1272.8L161.4 1240.1L143.2 1206.6L137.6 1175.7L145.2 1150.3M164.5 1156.0L182.7 1140.2L210.4 1133.2L244.9 1135.8L282.8 1147.6L320.4 1167.5L354.0 1193.6L380.4 1223.3L396.9 1253.6L402.0 1281.7L395.1 1304.8L376.9 1320.6L349.2 1327.5L314.7 1325.0L276.8 1313.2L239.2 1293.2L205.6 1267.2L179.2 1237.5L162.7 1207.1L157.6 1179.0L164.5 1156.0M185.8 1163.7L201.7 1149.9L225.9 1143.8L256.0 1146.0L289.2 1156.3L322.0 1173.8L351.4 1196.5L374.5 1222.5L388.9 1249.0L393.3 1273.6L387.3 1293.7L371.4 1307.5L347.2 1313.6L317.1 1311.4L284.0 1301.1L251.1 1283.6L221.7 1260.9L198.6 1234.9L184.2 1208.4L179.8 1183.8L185.8 1163.7M208.6 1173.2L221.8 1161.7L241.9 1156.7L267.0 1158.5L294.5 1167.1L321.8 1181.6L346.3 1200.5L365.4 1222.1L377.4 1244.2L381.1 1264.6L376.1 1281.3L362.9 1292.8L342.8 1297.9L317.7 1296.0L290.2 1287.4L262.9 1272.9L238.4 1254.0L219.3 1232.4L207.3 1210.4L203.6 1190.0L208.6 1173.2M232.3 1184.4L242.5 1175.5L258.1 1171.6L277.4 1173.0L298.7 1179.7L319.8 1190.8L338.7 1205.5L353.5 1222.1L362.7 1239.2L365.6 1254.9L361.7 1267.9L351.5 1276.7L336.0 1280.6L316.6 1279.2L295.3 1272.6L274.2 1261.4L255.4 1246.8L240.6 1230.1L231.3 1213.1L228.4 1197.3L232.3 1184.4M256.4 1196.9L263.3 1190.8L273.9 1188.2L287.1 1189.2L301.6 1193.7L315.9 1201.3L328.8 1211.2L338.8 1222.6L345.2 1234.2L347.1 1244.9L344.5 1253.7L337.5 1259.7L326.9 1262.4L313.8 1261.4L299.3 1256.9L284.9 1249.3L272.1 1239.3L262.0 1228.0L255.7 1216.4L253.8 1205.7L256.4 1196.9M280.2 1210.4L283.7 1207.3L289.1 1206.0L295.7 1206.5L303.1 1208.8L310.3 1212.6L316.9 1217.7L322.0 1223.4L325.1 1229.3L326.1 1234.7L324.8 1239.2L321.3 1242.2L315.9 1243.6L309.3 1243.1L301.9 1240.8L294.7 1236.9L288.1 1231.9L283.1 1226.1L279.9 1220.3L278.9 1214.8L280.2 1210.4" stroke="#969696" stroke-width="1.35" stroke-linejoin="round"/>
<circle cx="108.2" cy="1191.7" r="11.0" fill="#0f0"/>
<circle cx="89.5" cy="1196.0" r="3.3000000000000003" fill="#0f0"/>
<circle cx="129.2" cy="1214.1" r="9.9" fill="#0f0"/>
<path d="M186.3 1195.3L197.1 1123.8" stroke="#0f0" stroke-width="5.5"/>
<circle cx="186.3" cy="1195.3" r="11.0" fill="#0f0"/>
<path d="M213.7 1191.7L231.1 1141.1" stroke="#0f0" stroke-width="5.5"/>
<circle cx="213.7" cy="1191.7" r="11.0" fill="#0f0"/>
<path d="M231.1 1194.6L247.0 1159.9" stroke="#0f0" stroke-width="5.5"/>
<circle cx="231.1" cy="1194.6" r="9.9" fill="#0f0"/>
<circle cx="236.8" cy="1206.2" r="11.0" fill="#0f0"/>
<circle cx="203.6" cy="1222.1" r="8.8" fill="#0f0"/>
<path d="M161.7 1230.7L155.9 1217.7" stroke="#0f0" stroke-width="4.95"/>
<path d="M180.5 1248.1L189.2 1237.9" stroke="#0f0" stroke-width="4.4"/>
<path d="M200.7 1271.2L219.5 1248.1" stroke="#0f0" stroke-width="5.5"/>
<circle cx="255.6" cy="1253.8" r="7.700000000000001" fill="#0f0"/>
<path d="M167.5 1209.0L179.0 1203.3" stroke="#0f0" stroke-width="5.5"/>
<path d="M304.4 1183.0L292.1 1206.2" stroke="#0f0" stroke-width="6.6000000000000005"/>
<path d="M298.6 1187.4L291.4 1200.4" stroke="#0f0" stroke-width="6.6000000000000005"/>
<path d="M317.4 1232.2L336.2 1214.8" stroke="#0f0" stroke-width="6.6000000000000005"/>
<circle cx="317.4" cy="1232.2" r="9.9" fill="#0f0"/>
<circle cx="313.0" cy="1246.6" r="9.9" fill="#0f0"/>
<circle cx="255.2" cy="1253.8" r="7.700000000000001" fill="#0f0"/>
<circle cx="157.2" cy="1141.9" r="9.9" fill="#f0f"/>
<circle cx="171.7" cy="1133.2" r="9.9" fill="#f0f"/>
<circle cx="155.8" cy="1127.5" r="6.6000000000000005" fill="#f0f"/>
<circle cx="165.9" cy="1143.4" r="8.8" fill="#f0f"/>
<circle cx="191.9" cy="1147.7" r="9.9" fill="#f0f"/>
<circle cx="197.7" cy="1127.5" r="8.8" fill="#f0f"/>
<circle cx="207.8" cy="1124.6" r="8.8" fill="#f0f"/>
<circle cx="213.6" cy="1141.9" r="9.9" fill="#f0f"/>
<circle cx="225.1" cy="1147.7" r="8.8" fill="#f0f"/>
<circle cx="251.2" cy="1144.8" r="9.9" fill="#f0f"/>
<circle cx="256.9" cy="1153.5" r="9.9" fill="#f0f"/>
<circle cx="256.9" cy="1166.5" r="9.9" fill="#f0f"/>
<circle cx="181.1" cy="1119.5" r="3.8500000000000005" fill="#f0f"/>
<circle cx="192.6" cy="1117.3" r="3.8500000000000005" fill="#f0f"/>
<circle cx="203.5" cy="1116.6" r="3.8500000000000005" fill="#f0f"/>
<circle cx="220.1" cy="1123.1" r="3.8500000000000005" fill="#f0f"/>
<circle cx="235.3" cy="1126.7" r="3.8500000000000005" fill="#f0f"/>
<circle cx="254.0" cy="1134.7" r="3.8500000000000005" fill="#f0f"/>
<path d="M220.1 1123.1L217.9 1134.7" stroke="#f0f" stroke-width="4.4"/>
<path d="M235.3 1126.7L232.4 1139.0" stroke="#f0f" stroke-width="4.4"/>
<path d="M181.1 1119.5L178.9 1131.8" stroke="#f0f" stroke-width="4.4"/>
<path d="M254.0 1134.7L252.6 1143.4" stroke="#f0f" stroke-width="4.4"/>
<path d="M196.5 1123.8L188.7 1185.3" stroke="#0f0" stroke-width="5.5"/>
<path d="M230.9 1141.2L217.9 1183.8" stroke="#0f0" stroke-width="5.5"/>
<path d="M246.1 1159.2L235.3 1185.3" stroke="#0f0" stroke-width="5.5"/>
<path d="M252.6 1149.9L239.6 1185.3" stroke="#f00" stroke-width="2.75"/>
<circle cx="251.9" cy="1150.6" r="3.3000000000000003" fill="#f00"/>
<circle cx="261.4" cy="1194.6" r="6.6000000000000005" fill="#f0f"/>
<circle cx="275.9" cy="1217.7" r="6.6000000000000005" fill="#f0f"/>
<path d="M288.5 1152.7L278.4 1185.9" stroke="#f0f" stroke-width="5.5"/>
<path d="M307.3 1158.5L288.5 1191.7" stroke="#f0f" stroke-width="5.5"/>
<path d="M313.0 1164.2L295.7 1197.5" stroke="#f0f" stroke-width="5.5"/>
<path d="M327.5 1180.1L315.9 1200.4" stroke="#f0f" stroke-width="5.5"/>
<path d="M341.9 1184.5L333.3 1206.2" stroke="#f0f" stroke-width="6.6000000000000005"/>
<path d="M298.6 1167.1L285.6 1191.7" stroke="#f0f" stroke-width="5.5"/>
<circle cx="265.3" cy="1197.5" r="10.450000000000001" fill="#f0f"/>
<circle cx="282.7" cy="1204.7" r="10.450000000000001" fill="#f0f"/>
<circle cx="281.2" cy="1216.3" r="10.450000000000001" fill="#f0f"/>
<circle cx="307.3" cy="1206.2" r="10.450000000000001" fill="#f0f"/>
<circle cx="321.7" cy="1206.2" r="10.450000000000001" fill="#f0f"/>
<circle cx="327.5" cy="1200.4" r="10.450000000000001" fill="#f0f"/>
<circle cx="315.9" cy="1219.2" r="10.450000000000001" fill="#f0f"/>
<circle cx="350.6" cy="1216.3" r="10.450000000000001" fill="#f0f"/>
<circle cx="372.3" cy="1222.1" r="10.450000000000001" fill="#f0f"/>
<circle cx="378.1" cy="1226.4" r="10.450000000000001" fill="#f0f"/>
<circle cx="341.9" cy="1229.3" r="10.450000000000001" fill="#f0f"/>
<circle cx="350.6" cy="1242.3" r="10.450000000000001" fill="#f0f"/>
<circle cx="365.1" cy="1256.7" r="10.450000000000001" fill="#f0f"/>
<circle cx="385.3" cy="1256.7" r="10.450000000000001" fill="#f0f"/>
<circle cx="297.1" cy="1240.8" r="10.450000000000001" fill="#f0f"/>
<circle cx="318.8" cy="1264.0" r="10.450000000000001" fill="#f0f"/>
<circle cx="302.9" cy="1272.6" r="10.450000000000001" fill="#f0f"/>
<circle cx="281.2" cy="1264.0" r="10.450000000000001" fill="#f0f"/>
<circle cx="362.2" cy="1232.2" r="10.450000000000001" fill="#f0f"/>
<circle cx="339.0" cy="1206.2" r="10.450000000000001" fill="#f0f"/>
<path d="M385.3 1256.7L400.5 1249.5" stroke="#f0f" stroke-width="5.5"/>
<path d="M321.7 1262.5L339.0 1252.4" stroke="#f0f" stroke-width="6.6000000000000005"/>
<path d="M359.3 1232.2L354.9 1249.5" stroke="#f0f" stroke-width="8.8"/>
<path d="M282.7 1264.0L263.9 1313.1" stroke="#f0f" stroke-width="7.700000000000001"/>
<path d="M304.4 1275.5L302.9 1291.4" stroke="#f0f" stroke-width="5.5"/>
<path d="M311.6 1275.5L307.3 1307.3" stroke="#f0f" stroke-width="5.5"/>
<path d="M295.7 1307.3L287.0 1350.7" stroke="#f0f" stroke-width="4.4"/>
<path d="M354.9 1281.3L383.8 1281.3" stroke="#f0f" stroke-width="5.5"/>
<circle cx="354.9" cy="1281.3" r="10.450000000000001" fill="#f0f"/>
<circle cx="365.1" cy="1314.5" r="10.450000000000001" fill="#f0f"/>
<circle cx="226.7" cy="1300.1" r="10.450000000000001" fill="#00e"/>
<circle cx="238.3" cy="1297.2" r="10.450000000000001" fill="#00e"/>
<circle cx="262.9" cy="1340.5" r="10.450000000000001" fill="#00e"/>
<circle cx="274.4" cy="1321.8" r="10.450000000000001" fill="#00e"/>
<path d="M228.2 1264.0L228.2 1284.2" stroke="#00e" stroke-width="5.5"/>
<path d="M219.5 1297.2L205.1 1318.9" stroke="#00e" stroke-width="5.5"/>
<path d="M228.2 1304.4L212.3 1330.4" stroke="#00e" stroke-width="5.5"/>
<path d="M244.1 1278.4L244.1 1292.9" stroke="#00e" stroke-width="5.5"/>
<path d="M254.2 1311.6L244.1 1347.8" stroke="#00e" stroke-width="5.5"/>
<path d="M241.2 1313.1L231.1 1342.0" stroke="#00e" stroke-width="5.5"/>
<path d="M234.0 1330.4L222.4 1342.0" stroke="#00e" stroke-width="5.5"/>
<circle cx="311.6" cy="1314.5" r="10.450000000000001" fill="#00e"/>
<circle cx="317.4" cy="1318.9" r="10.450000000000001" fill="#00e"/>
<circle cx="350.6" cy="1305.9" r="10.450000000000001" fill="#00e"/>
<circle cx="346.3" cy="1339.1" r="10.450000000000001" fill="#00e"/>
<circle cx="341.9" cy="1347.8" r="10.450000000000001" fill="#00e"/>
<circle cx="307.3" cy="1343.4" r="10.450000000000001" fill="#00e"/>
<circle cx="301.5" cy="1347.8" r="10.450000000000001" fill="#00e"/>
<circle cx="263.9" cy="1342.0" r="10.450000000000001" fill="#00e"/>
<circle cx="269.7" cy="1347.8" r="10.450000000000001" fill="#00e"/>
<circle cx="258.1" cy="1316.0" r="10.450000000000001" fill="#00e"/>
<circle cx="243.7" cy="1287.1" r="10.450000000000001" fill="#00e"/>
<circle cx="276.9" cy="1318.9" r="10.450000000000001" fill="#00e"/>
<circle cx="243.7" cy="1314.5" r="10.450000000000001" fill="#00e"/>
<path d="M350.6 1305.9L350.6 1336.2" stroke="#00e" stroke-width="5.5"/>
<path d="M313.0 1321.8L313.0 1339.1" stroke="#00e" stroke-width="6.6000000000000005"/>
<path d="M300.0 1327.5L308.7 1321.8" stroke="#00e" stroke-width="6.6000000000000005"/>
<path d="M354.9 1336.2L336.2 1353.6" stroke="#00e" stroke-width="6.6000000000000005"/>
<path d="M253.8 1342.0L243.7 1350.7" stroke="#00e" stroke-width="5.5"/>
<path d="M251.3 1149.8L238.3 1185.9" stroke="#f00" stroke-width="3.3000000000000003"/>
<path d="M231.1 1203.3L219.5 1220.6" stroke="#f00" stroke-width="4.4"/>
<circle cx="261.4" cy="1209.0" r="10.450000000000001" fill="#f00"/>
<circle cx="255.6" cy="1224.9" r="10.450000000000001" fill="#f00"/>
<circle cx="238.3" cy="1233.6" r="10.450000000000001" fill="#f00"/>
<circle cx="221.0" cy="1227.8" r="10.450000000000001" fill="#f00"/>
<circle cx="226.7" cy="1240.8" r="10.450000000000001" fill="#f00"/>
<circle cx="170.4" cy="1217.7" r="10.450000000000001" fill="#f00"/>
<circle cx="119.8" cy="1229.3" r="10.450000000000001" fill="#f00"/>
<circle cx="137.1" cy="1224.9" r="10.450000000000001" fill="#f00"/>
<circle cx="111.1" cy="1239.4" r="10.450000000000001" fill="#f00"/>
<circle cx="122.7" cy="1248.1" r="10.450000000000001" fill="#f00"/>
<circle cx="140.0" cy="1242.3" r="10.450000000000001" fill="#f00"/>
<circle cx="151.6" cy="1235.1" r="10.450000000000001" fill="#f00"/>
<circle cx="103.9" cy="1239.4" r="10.450000000000001" fill="#f00"/>
<circle cx="167.5" cy="1243.7" r="10.450000000000001" fill="#f00"/>
<circle cx="163.2" cy="1258.2" r="10.450000000000001" fill="#f00"/>
<circle cx="155.9" cy="1268.3" r="10.450000000000001" fill="#f00"/>
<circle cx="199.3" cy="1232.2" r="10.450000000000001" fill="#f00"/>
<circle cx="161.7" cy="1282.7" r="10.450000000000001" fill="#f00"/>
<circle cx="184.8" cy="1282.7" r="10.450000000000001" fill="#f00"/>
<circle cx="205.1" cy="1278.4" r="10.450000000000001" fill="#f00"/>
<circle cx="216.6" cy="1272.6" r="10.450000000000001" fill="#f00"/>
<circle cx="238.3" cy="1268.3" r="10.450000000000001" fill="#f00"/>
<circle cx="261.4" cy="1268.3" r="10.450000000000001" fill="#f00"/>
<circle cx="252.7" cy="1291.4" r="10.450000000000001" fill="#f00"/>
<circle cx="223.8" cy="1327.5" r="10.450000000000001" fill="#f00"/>
<circle cx="267.2" cy="1240.8" r="10.450000000000001" fill="#f00"/>
<circle cx="247.0" cy="1243.7" r="10.450000000000001" fill="#f00"/>
<circle cx="135.7" cy="1249.5" r="10.450000000000001" fill="#f00"/>
<path d="M170.4 1217.7L160.3 1204.7" stroke="#f00" stroke-width="5.5"/>
<path d="M167.5 1243.7L192.8 1253.8" stroke="#f00" stroke-width="3.8500000000000005"/>
<path d="M163.2 1258.2L192.8 1253.8" stroke="#f00" stroke-width="3.8500000000000005"/>
<path d="M155.9 1268.3L192.8 1253.8" stroke="#f00" stroke-width="3.8500000000000005"/>
<path d="M199.3 1232.2L192.8 1253.8" stroke="#f00" stroke-width="3.8500000000000005"/>
<path d="M184.8 1282.7L192.8 1253.8" stroke="#f00" stroke-width="3.8500000000000005"/>
<path d="M205.1 1278.4L192.8 1253.8" stroke="#f00" stroke-width="3.8500000000000005"/>
<path d="M216.6 1272.6L192.8 1253.8" stroke="#f00" stroke-width="3.8500000000000005"/>
<path d="M170.4 1217.7L192.8 1253.8" stroke="#f00" stroke-width="3.8500000000000005"/>
<path d="M151.6 1235.1L192.8 1253.8" stroke="#f00" stroke-width="3.8500000000000005"/>
<path d="M140.0 1242.3L192.8 1253.8" stroke="#f00" stroke-width="3.8500000000000005"/>
<path d="M226.7 1240.8L192.8 1253.8" stroke="#f00" stroke-width="3.8500000000000005"/>
<path d="M238.3 1268.3L192.8 1253.8" stroke="#f00" stroke-width="3.8500000000000005"/>
<path d="M161.7 1282.7L192.8 1253.8" stroke="#f00" stroke-width="3.8500000000000005"/>
<path d="M150.1 1268.3L137.1 1285.6" stroke="#f00" stroke-width="5.5"/>
<path d="M173.3 1292.9L167.5 1307.3" stroke="#f00" stroke-width="5.5"/>
<path d="M184.8 1292.9L176.2 1316.0" stroke="#f00" stroke-width="5.5"/>
<path d="M194.9 1297.2L190.6 1321.8" stroke="#f00" stroke-width="5.5"/>
<path d="M202.2 1298.6L199.3 1310.2" stroke="#f00" stroke-width="5.5"/>
<path d="M248.4 1307.3L236.8 1344.9" stroke="#f00" stroke-width="5.5"/>
<path d="M292.1 1164.2L269.7 1197.5" stroke="#f00" stroke-width="9.9"/>
<circle cx="259.6" cy="1209.0" r="10.450000000000001" fill="#f00"/>
<circle cx="269.7" cy="1194.6" r="10.450000000000001" fill="#f00"/>
<circle cx="253.8" cy="1227.8" r="10.450000000000001" fill="#f00"/>
<circle cx="269.7" cy="1242.3" r="10.450000000000001" fill="#f00"/>
<circle cx="240.8" cy="1242.3" r="10.450000000000001" fill="#f00"/>
<circle cx="256.7" cy="1264.0" r="10.450000000000001" fill="#f00"/>
<circle cx="243.7" cy="1268.3" r="10.450000000000001" fill="#f00"/>
<circle cx="253.8" cy="1291.4" r="10.450000000000001" fill="#f00"/>
<circle cx="282.7" cy="1303.0" r="10.450000000000001" fill="#f00"/>
<circle cx="284.1" cy="1337.7" r="10.450000000000001" fill="#f00"/>
<circle cx="243.7" cy="1330.4" r="10.450000000000001" fill="#f00"/>
<circle cx="268.2" cy="1264.0" r="10.450000000000001" fill="#f00"/>
<path d="M291.4 1310.2L291.4 1330.4" stroke="#f00" stroke-width="6.6000000000000005"/>
<path d="M249.5 1307.3L246.6 1330.4" stroke="#f00" stroke-width="6.6000000000000005"/>
<circle cx="161.9" cy="1278.5" r="10.450000000000001" fill="#f00"/>
<circle cx="178.1" cy="1290.7" r="10.450000000000001" fill="#f00"/>
<circle cx="194.3" cy="1286.6" r="10.450000000000001" fill="#f00"/>
<circle cx="210.4" cy="1278.5" r="10.450000000000001" fill="#f00"/>
<circle cx="182.1" cy="1306.9" r="10.450000000000001" fill="#f00"/>
<circle cx="202.3" cy="1302.8" r="10.450000000000001" fill="#f00"/>
<circle cx="218.5" cy="1270.4" r="10.450000000000001" fill="#f00"/>
<circle cx="165.9" cy="1262.3" r="10.450000000000001" fill="#f00"/>
<circle cx="121.4" cy="1238.1" r="10.450000000000001" fill="#f00"/>
<circle cx="137.6" cy="1250.2" r="10.450000000000001" fill="#f00"/>
<circle cx="113.3" cy="1246.2" r="10.450000000000001" fill="#f00"/>
<circle cx="133.5" cy="1230.0" r="10.450000000000001" fill="#f00"/>
<path d="M189.6 1252.6L168.0 1238.0L148.3 1223.5L131.1 1209.3L116.7 1195.9L105.5 1183.5L97.7 1172.4L93.7 1163.0L93.3 1155.4L96.8 1149.9M189.6 1252.6L171.5 1235.0L155.3 1217.5L141.3 1200.5L129.9 1184.4L121.4 1169.7L115.9 1156.6L113.7 1145.6L114.7 1136.9L119.0 1130.7L126.4 1127.1M189.6 1252.6L176.9 1233.6L165.9 1214.8L156.8 1196.6L150.0 1179.3L145.6 1163.6L143.6 1149.7L144.2 1138.0L147.3 1128.7L152.8 1122.2L160.6 1118.5L170.5 1117.8M189.6 1252.6L183.5 1234.1L179.0 1215.8L176.2 1198.0L175.1 1181.2L175.7 1165.8L178.1 1152.2L182.1 1140.8L187.8 1131.7L194.9 1125.3L203.2 1121.7L212.6 1120.9L222.9 1123.1M189.6 1252.6L190.9 1236.4L193.5 1220.3L197.5 1204.6L202.6 1189.8L208.8 1176.1L216.0 1164.0L223.9 1153.8L232.3 1145.6L241.1 1139.7L250.1 1136.3L258.9 1135.3L267.4 1137.0L275.5 1141.1M189.6 1252.6L198.1 1240.3L207.9 1227.9L218.6 1215.8L229.9 1204.3L241.7 1193.6L253.6 1184.0L265.3 1175.7L276.6 1169.0L287.1 1164.0L296.6 1160.9L304.8 1159.7L311.7 1160.4L316.9 1163.0M189.6 1252.6L204.7 1245.3L220.7 1237.9L237.4 1230.4L254.4 1223.2L271.1 1216.3L287.2 1210.0L302.4 1204.4L316.1 1199.7L328.1 1195.9L338.1 1193.1L345.9 1191.5L351.2 1191.0L353.9 1191.7L354.0 1193.6M189.6 1252.6L209.7 1251.1L230.8 1249.2L252.2 1247.1L273.5 1244.8L294.2 1242.3L313.6 1239.7L331.4 1237.1L347.1 1234.6L360.3 1232.1L370.7 1229.8L378.1 1227.7L382.2 1225.9L383.0 1224.4L380.4 1223.3M189.6 1252.6L212.9 1256.9L237.1 1260.8L261.5 1264.1L285.5 1266.8L308.6 1268.8L330.1 1270.1L349.6 1270.6L366.5 1270.3L380.5 1269.2L391.2 1267.3L398.3 1264.8L401.6 1261.6L401.2 1257.9M189.6 1252.6L213.9 1262.4L239.0 1271.5L264.4 1279.9L289.2 1287.2L313.0 1293.4L335.2 1298.2L355.2 1301.5L372.5 1303.3L386.7 1303.5L397.4 1302.1L404.4 1299.1L407.6 1294.6L406.7 1288.8M189.6 1252.6L212.6 1266.8L236.4 1280.3L260.5 1292.8L284.2 1304.0L307.0 1313.5L328.3 1321.2L347.6 1326.9L364.4 1330.4L378.3 1331.6L388.9 1330.6L396.0 1327.3L399.5 1321.8M189.6 1252.6L209.1 1269.9L229.5 1286.4L250.3 1301.7L271.0 1315.5L291.1 1327.3L310.1 1337.0L327.5 1344.3L343.0 1349.0L356.1 1350.9L366.4 1350.1L373.8 1346.5M189.6 1252.6L203.7 1271.2L218.9 1289.0L234.7 1305.6L250.9 1320.5L266.9 1333.4L282.4 1344.0L297.1 1352.0L310.4 1357.1L322.3 1359.4L332.2 1358.7M189.6 1252.6L197.1 1270.7L205.7 1288.0L215.4 1304.2L225.8 1318.7L236.8 1331.2L247.9 1341.4L259.1 1349.1L269.9 1354.1L280.2 1356.3M189.6 1252.6L189.7 1268.4L191.2 1283.5L194.1 1297.5L198.3 1310.1L203.6 1320.9L210.0 1329.6L217.3 1336.1L225.4 1340.2M189.6 1252.6L182.5 1264.6L176.9 1275.9L173.0 1286.4L171.0 1295.6L170.8 1303.4L172.4 1309.7L175.9 1314.2L181.1 1316.8M189.6 1252.6L175.9 1259.5L164.0 1266.0L154.1 1271.7L146.5 1276.7L141.4 1280.7L138.8 1283.6L138.9 1285.5M189.6 1252.6L170.8 1253.8L154.0 1254.6L139.3 1255.1L127.4 1255.1L118.3 1254.7L112.4 1253.9L109.8 1252.8M189.6 1252.6L167.7 1247.9L147.6 1243.0L130.1 1238.0L115.4 1233.0L103.9 1228.2L95.9 1223.6L91.6 1219.3L91.2 1215.6M189.6 1252.6L166.7 1242.5L145.7 1232.3L127.2 1222.3L111.7 1212.6L99.5 1203.6L90.8 1195.5L86.1 1188.4L85.2 1182.6M168.0 1238.0L171.5 1235.0L176.9 1233.6L183.5 1234.1L190.9 1236.4L198.1 1240.3L204.7 1245.3L209.7 1251.1L212.9 1256.9L213.9 1262.4L212.6 1266.8L209.1 1269.9L203.7 1271.2L197.1 1270.7L189.7 1268.4L182.5 1264.6L175.9 1259.5L170.8 1253.8L167.7 1247.9L166.7 1242.5L168.0 1238.0M148.3 1223.5L155.3 1217.5L165.9 1214.8L179.0 1215.8L193.5 1220.3L207.9 1227.9L220.7 1237.9L230.8 1249.2L237.1 1260.8L239.0 1271.5L236.4 1280.3L229.5 1286.4L218.9 1289.0L205.7 1288.0L191.2 1283.5L176.9 1275.9L164.0 1266.0L154.0 1254.6L147.6 1243.0L145.7 1232.3L148.3 1223.5M131.1 1209.3L141.3 1200.5L156.8 1196.6L176.2 1198.0L197.5 1204.6L218.6 1215.8L237.4 1230.4L252.2 1247.1L261.5 1264.1L264.4 1279.9L260.5 1292.8L250.3 1301.7L234.7 1305.6L215.4 1304.2L194.1 1297.5L173.0 1286.4L154.1 1271.7L139.3 1255.1L130.1 1238.0L127.2 1222.3L131.1 1209.3M116.7 1195.9L129.9 1184.4L150.0 1179.3L175.1 1181.2L202.6 1189.8L229.9 1204.3L254.4 1223.2L273.5 1244.8L285.5 1266.8L289.2 1287.2L284.2 1304.0L271.0 1315.5L250.9 1320.5L225.8 1318.7L198.3 1310.1L171.0 1295.6L146.5 1276.7L127.4 1255.1L115.4 1233.0L111.7 1212.6L116.7 1195.9M105.5 1183.5L121.4 1169.7L145.6 1163.6L175.7 1165.8L208.8 1176.1L241.7 1193.6L271.1 1216.3L294.2 1242.3L308.6 1268.8L313.0 1293.4L307.0 1313.5L291.1 1327.3L266.9 1333.4L236.8 1331.2L203.6 1320.9L170.8 1303.4L141.4 1280.7L118.3 1254.7L103.9 1228.2L99.5 1203.6L105.5 1183.5M97.7 1172.4L115.9 1156.6L143.6 1149.7L178.1 1152.2L216.0 1164.0L253.6 1184.0L287.2 1210.0L313.6 1239.7L330.1 1270.1L335.2 1298.2L328.3 1321.2L310.1 1337.0L282.4 1344.0L247.9 1341.4L210.0 1329.6L172.4 1309.7L138.8 1283.6L112.4 1253.9L95.9 1223.6L90.8 1195.5L97.7 1172.4M93.7 1163.0L113.7 1145.6L144.2 1138.0L182.1 1140.8L223.9 1153.8L265.3 1175.7L302.4 1204.4L331.4 1237.1L349.6 1270.6L355.2 1301.5L347.6 1326.9L327.5 1344.3L297.1 1352.0L259.1 1349.1L217.3 1336.1L175.9 1314.2L138.9 1285.5M91.6 1219.3L86.1 1188.4L93.7 1163.0M93.3 1155.4L114.7 1136.9L147.3 1128.7L187.8 1131.7L232.3 1145.6L276.6 1169.0L316.1 1199.7L347.1 1234.6L366.5 1270.3L372.5 1303.3L364.4 1330.4L343.0 1349.0L310.4 1357.1L269.9 1354.1L225.4 1340.2M119.0 1130.7L152.8 1122.2L194.9 1125.3L241.1 1139.7L287.1 1164.0L328.1 1195.9L360.3 1232.1L380.5 1269.2L386.7 1303.5L378.3 1331.6L356.1 1350.9L322.3 1359.4L280.2 1356.3M160.6 1118.5L203.2 1121.7L250.1 1136.3L296.6 1160.9L338.1 1193.1L370.7 1229.8L391.2 1267.3L397.4 1302.1L388.9 1330.6L366.4 1350.1L332.2 1358.7M212.6 1120.9L258.9 1135.3L304.8 1159.7L345.9 1191.5L378.1 1227.7L398.3 1264.8L404.4 1299.1L396.0 1327.3L373.8 1346.5M267.4 1137.0L311.7 1160.4L351.2 1191.0L382.2 1225.9L401.6 1261.6L407.6 1294.6L399.5 1321.8M353.9 1191.7L383.0 1224.4L401.2 1257.9" stroke="#969696" stroke-width="1.35" stroke-linejoin="round"/>
</g>
<g id="ellC" fill="none" stroke-linecap="round">
<path d="M123.6 2130.5L142.7 2134.5L164.4 2135.6L188.2 2133.7L213.5 2129.0L239.6 2121.6L265.9 2111.5L291.7 2099.2L316.5 2084.8L339.6 2068.8L360.5 2051.5L378.6 2033.4L393.5 2014.8L404.8 1996.4L412.2 1978.4M88.3 2113.6L101.6 2118.9L118.5 2121.6L138.6 2121.8L161.4 2119.5L186.3 2114.6L212.7 2107.3L240.0 2097.8L267.5 2086.3L294.5 2073.1L320.4 2058.6L344.5 2043.0L366.2 2026.8L385.1 2010.4L400.5 1994.1L412.2 1978.4M66.6 2091.9L73.4 2096.7L84.5 2099.5L99.7 2100.3L118.5 2099.1L140.5 2095.8L165.1 2090.6L191.8 2083.7L219.9 2075.0L248.7 2065.0L277.4 2053.8L305.5 2041.7L332.1 2028.9L356.6 2015.9L378.5 2003.0L397.2 1990.4L412.2 1978.4M58.9 2073.6L64.2 2074.7L74.0 2074.3L88.1 2072.6L106.1 2069.5L127.6 2065.1L152.1 2059.5L179.0 2052.9L207.5 2045.4L237.1 2037.2L266.9 2028.6L296.3 2019.6L324.4 2010.6L350.7 2001.8L374.5 1993.3L395.2 1985.5L412.2 1978.4M56.8 2052.9L61.6 2049.7L71.1 2045.8L84.8 2041.2L102.6 2035.9L124.0 2030.2L148.5 2024.2L175.4 2018.1L204.1 2011.9L233.8 2005.8L264.0 2000.1L293.7 1994.7L322.3 1989.9L349.1 1985.8L373.4 1982.5L394.6 1980.0L412.2 1978.4M60.4 2031.7L66.0 2024.3L76.0 2016.7L90.3 2009.1L108.5 2001.7L130.1 1994.7L154.6 1988.3L181.4 1982.6L209.9 1977.7L239.3 1973.8L268.9 1971.0L298.0 1969.3L325.9 1968.8L351.9 1969.5L375.3 1971.3L395.6 1974.3L412.2 1978.4M76.8 2000.9L88.4 1989.9L103.9 1979.6L123.0 1970.3L145.2 1962.1L169.9 1955.2L196.5 1949.9L224.4 1946.2L252.9 1944.3L281.3 1944.2L308.8 1945.9L334.9 1949.3L358.8 1954.4L380.0 1961.1L397.9 1969.2L412.2 1978.4M106.9 1968.1L124.4 1955.6L144.8 1944.6L167.8 1935.4L192.8 1928.2L219.2 1923.2L246.2 1920.5L273.4 1920.2L299.8 1922.3L325.1 1926.8L348.4 1933.4L369.2 1942.2L387.1 1952.8L401.5 1964.9L412.2 1978.4M195.8 1917.3L221.2 1909.9L247.2 1905.1L273.2 1903.1L298.6 1903.9L322.8 1907.5L345.1 1913.8L365.0 1922.7L382.1 1933.9L395.8 1947.1L406.0 1962.1L412.2 1978.4M302.7 1895.7L326.2 1897.0L347.8 1901.2L367.0 1908.3L383.2 1918.1L396.2 1930.3L405.4 1944.7L410.8 1960.9L412.2 1978.4M388.6 1910.8L401.2 1920.2L410.0 1931.9L414.9 1945.8L415.6 1961.4L412.2 1978.4M417.2 1928.6L422.4 1938.5L423.3 1950.2L419.9 1963.7L412.2 1978.4M432.0 1949.3L429.8 1957.6L423.2 1967.4L412.2 1978.4M437.9 1963.5L433.8 1967.3L425.2 1972.3L412.2 1978.4M439.5 1979.5L435.0 1978.2L425.8 1977.8L412.2 1978.4M436.8 1995.8L433.1 1989.3L424.8 1983.4L412.2 1978.4M426.8 2022.3L429.8 2010.8L428.3 1999.5L422.4 1988.6L412.2 1978.4M403.2 2052.8L413.3 2038.2L419.4 2023.1L421.2 2007.8L418.8 1992.8L412.2 1978.4M324.4 2107.4L346.6 2095.4L366.3 2081.3L383.2 2065.8L396.7 2049.0L406.5 2031.4L412.5 2013.5L414.4 1995.7L412.2 1978.4M218.4 2137.2L244.0 2132.5L269.8 2125.0L294.9 2114.8L319.0 2102.3L341.3 2087.6L361.3 2071.3L378.5 2053.5L392.5 2034.9L402.9 2015.9L409.5 1996.9L412.2 1978.4M66.6 2091.9L58.9 2073.6L56.8 2052.9L60.4 2031.7L69.4 2012.3M88.3 2113.6L73.4 2096.7L64.2 2074.7L61.6 2049.7L66.0 2024.3L76.8 2000.9L93.0 1981.8M123.6 2130.5L101.6 2118.9L84.5 2099.5L74.0 2074.3L71.1 2045.8L76.0 2016.7L88.4 1989.9L106.9 1968.1L129.9 1953.3M142.7 2134.5L118.5 2121.6L99.7 2100.3L88.1 2072.6L84.8 2041.2L90.3 2009.1L103.9 1979.6L124.4 1955.6L149.6 1939.2M164.4 2135.6L138.6 2121.8L118.5 2099.1L106.1 2069.5L102.6 2035.9L108.5 2001.7L123.0 1970.3L144.8 1944.6L171.8 1927.2M188.2 2133.7L161.4 2119.5L140.5 2095.8L127.6 2065.1L124.0 2030.2L130.1 1994.7L145.2 1962.1L167.8 1935.4L195.8 1917.3L226.4 1909.6M218.4 2137.2L188.2 2133.7M213.5 2129.0L186.3 2114.6L165.1 2090.6L152.1 2059.5L148.5 2024.2L154.6 1988.3L169.9 1955.2L192.8 1928.2L221.2 1909.9L252.2 1902.1M244.0 2132.5L213.5 2129.0M239.6 2121.6L212.7 2107.3L191.8 2083.7L179.0 2052.9L175.4 2018.1L181.4 1982.6L196.5 1949.9L219.2 1923.2L247.2 1905.1L277.8 1897.4M269.8 2125.0L239.6 2121.6M265.9 2111.5L240.0 2097.8L219.9 2075.0L207.5 2045.4L204.1 2011.9L209.9 1977.7L224.4 1946.2L246.2 1920.5L273.2 1903.1L302.7 1895.7L331.8 1899.0M324.4 2107.4L294.9 2114.8L265.9 2111.5M291.7 2099.2L267.5 2086.3L248.7 2065.0L237.1 2037.2L233.8 2005.8L239.3 1973.8L252.9 1944.3L273.4 1920.2L298.6 1903.9L326.2 1897.0L353.5 1900.1M346.6 2095.4L319.0 2102.3L291.7 2099.2M316.5 2084.8L294.5 2073.1L277.4 2053.8L266.9 2028.6L264.0 2000.1L268.9 1971.0L281.3 1944.2L299.8 1922.3L322.8 1907.5L347.8 1901.2L372.6 1904.1M366.3 2081.3L341.3 2087.6L316.5 2084.8M339.6 2068.8L320.4 2058.6L305.5 2041.7L296.3 2019.6L293.7 1994.7L298.0 1969.3L308.8 1945.9L325.1 1926.8L345.1 1913.8L367.0 1908.3L388.6 1910.8L407.9 1921.0M403.2 2052.8L383.2 2065.8L361.3 2071.3L339.6 2068.8M360.5 2051.5L344.5 2043.0L332.1 2028.9L324.4 2010.6L322.3 1989.9L325.9 1968.8L334.9 1949.3L348.4 1933.4L365.0 1922.7L383.2 1918.1L401.2 1920.2L417.2 1928.6L429.6 1942.7M426.8 2022.3L413.3 2038.2L396.7 2049.0L378.5 2053.5L360.5 2051.5M378.6 2033.4L366.2 2026.8L356.6 2015.9L350.7 2001.8L349.1 1985.8L351.9 1969.5L358.8 1954.4L369.2 1942.2L382.1 1933.9L396.2 1930.3L410.0 1931.9L422.4 1938.5L432.0 1949.3L437.9 1963.5L439.5 1979.5L436.8 1995.8L429.8 2010.8L419.4 2023.1L406.5 2031.4L392.5 2034.9L378.6 2033.4M393.5 2014.8L385.1 2010.4L378.5 2003.0L374.5 1993.3L373.4 1982.5L375.3 1971.3L380.0 1961.1L387.1 1952.8L395.8 1947.1L405.4 1944.7L414.9 1945.8L423.3 1950.2L429.8 1957.6L433.8 1967.3L435.0 1978.2L433.1 1989.3L428.3 1999.5L421.2 2007.8L412.5 2013.5L402.9 2015.9L393.5 2014.8M404.8 1996.4L400.5 1994.1L397.2 1990.4L395.2 1985.5L394.6 1980.0L395.6 1974.3L397.9 1969.2L401.5 1964.9L406.0 1962.1L410.8 1960.9L415.6 1961.4L419.9 1963.7L423.2 1967.4L425.2 1972.3L425.8 1977.8L424.8 1983.4L422.4 1988.6L418.8 1992.8L414.4 1995.7L409.5 1996.9L404.8 1996.4" stroke="#969696" stroke-width="1.35" stroke-linejoin="round"/>
<path d="M209.7 1937.0L218.4 1965.9" stroke="#0f0" stroke-width="3.8500000000000005"/>
<path d="M196.7 1957.3L201.1 1970.3" stroke="#0f0" stroke-width="3.3000000000000003"/>
<circle cx="218.4" cy="1999.2" r="7.700000000000001" fill="#0f0"/>
<circle cx="231.4" cy="2000.6" r="7.700000000000001" fill="#0f0"/>
<circle cx="243.0" cy="2002.1" r="7.700000000000001" fill="#0f0"/>
<circle cx="258.0" cy="1911.0" r="10.450000000000001" fill="#0f0"/>
<circle cx="278.2" cy="1913.9" r="10.450000000000001" fill="#0f0"/>
<circle cx="259.5" cy="1931.2" r="10.450000000000001" fill="#0f0"/>
<circle cx="273.9" cy="1932.7" r="10.450000000000001" fill="#0f0"/>
<circle cx="250.8" cy="1921.1" r="10.450000000000001" fill="#0f0"/>
<path d="M275.3 1896.6L276.8 1911.0" stroke="#0f0" stroke-width="5.5"/>
<path d="M310.0 1898.0L311.5 1922.6" stroke="#0f0" stroke-width="5.5"/>
<path d="M289.8 1919.7L292.7 1945.7" stroke="#0f0" stroke-width="5.5"/>
<path d="M311.5 1918.2L307.1 1939.9" stroke="#0f0" stroke-width="5.5"/>
<circle cx="312.9" cy="1928.4" r="10.450000000000001" fill="#0f0"/>
<circle cx="289.8" cy="1948.6" r="10.450000000000001" fill="#0f0"/>
<circle cx="341.8" cy="1912.5" r="10.450000000000001" fill="#0f0"/>
<circle cx="334.6" cy="1922.6" r="10.450000000000001" fill="#0f0"/>
<circle cx="344.7" cy="1939.9" r="10.450000000000001" fill="#0f0"/>
<circle cx="360.6" cy="1934.1" r="10.450000000000001" fill="#0f0"/>
<circle cx="357.7" cy="1954.4" r="10.450000000000001" fill="#0f0"/>
<circle cx="364.9" cy="1947.1" r="10.450000000000001" fill="#0f0"/>
<circle cx="382.3" cy="1950.0" r="10.450000000000001" fill="#0f0"/>
<circle cx="389.5" cy="1942.8" r="10.450000000000001" fill="#0f0"/>
<circle cx="330.3" cy="1976.0" r="10.450000000000001" fill="#0f0"/>
<circle cx="291.2" cy="2000.6" r="10.450000000000001" fill="#0f0"/>
<circle cx="315.8" cy="2000.6" r="10.450000000000001" fill="#0f0"/>
<circle cx="350.5" cy="1928.4" r="10.450000000000001" fill="#0f0"/>
<path d="M343.3 1896.6L341.8 1912.5" stroke="#0f0" stroke-width="6.6000000000000005"/>
<path d="M370.7 1902.3L362.1 1928.4" stroke="#0f0" stroke-width="6.6000000000000005"/>
<path d="M403.2 1922.6L386.6 1945.7" stroke="#0f0" stroke-width="6.6000000000000005"/>
<path d="M331.7 1945.7L330.3 1976.0" stroke="#0f0" stroke-width="5.5"/>
<path d="M312.9 1970.3L315.1 1999.2" stroke="#0f0" stroke-width="5.5"/>
<path d="M266.7 1948.6L266.7 1967.4" stroke="#0f0" stroke-width="5.5"/>
<circle cx="392.4" cy="2026.6" r="8.8" fill="#0f0"/>
<circle cx="419.9" cy="2022.3" r="8.25" fill="#0f0"/>
<circle cx="183.7" cy="1919.7" r="9.350000000000001" fill="#f0f"/>
<circle cx="196.7" cy="1921.1" r="8.8" fill="#f0f"/>
<circle cx="232.9" cy="1918.2" r="9.9" fill="#f0f"/>
<circle cx="234.3" cy="1932.7" r="8.8" fill="#f0f"/>
<circle cx="241.5" cy="1921.1" r="8.8" fill="#f0f"/>
<circle cx="170.7" cy="1948.6" r="4.4" fill="#f0f"/>
<circle cx="160.6" cy="1935.6" r="4.4" fill="#f0f"/>
<circle cx="121.6" cy="2045.4" r="10.450000000000001" fill="#f0f"/>
<circle cx="140.4" cy="2057.0" r="10.450000000000001" fill="#f0f"/>
<circle cx="157.7" cy="2055.5" r="10.450000000000001" fill="#f0f"/>
<circle cx="120.1" cy="2074.3" r="10.450000000000001" fill="#f0f"/>
<circle cx="130.3" cy="2065.6" r="10.450000000000001" fill="#f0f"/>
<path d="M121.6 2051.2L102.8 2057.0" stroke="#f0f" stroke-width="7.700000000000001"/>
<path d="M137.5 2070.0L131.7 2093.1" stroke="#f0f" stroke-width="5.5"/>
<path d="M156.3 2065.6L151.9 2113.3" stroke="#f0f" stroke-width="5.5"/>
<circle cx="182.3" cy="2029.5" r="11.0" fill="#f0f"/>
<circle cx="201.1" cy="2017.9" r="11.0" fill="#f0f"/>
<circle cx="218.4" cy="2019.4" r="11.0" fill="#f0f"/>
<circle cx="211.2" cy="2041.1" r="11.0" fill="#f0f"/>
<circle cx="232.9" cy="2062.7" r="11.0" fill="#f0f"/>
<circle cx="198.2" cy="2032.4" r="11.0" fill="#f0f"/>
<circle cx="225.6" cy="2051.2" r="11.0" fill="#f0f"/>
<circle cx="243.0" cy="2055.5" r="11.0" fill="#f0f"/>
<path d="M182.3 2036.7L188.1 2119.1" stroke="#f0f" stroke-width="6.6000000000000005"/>
<path d="M189.5 2044.0L189.5 2087.3" stroke="#f0f" stroke-width="5.5"/>
<circle cx="247.9" cy="1952.9" r="10.450000000000001" fill="#f0f"/>
<circle cx="269.6" cy="2003.5" r="10.450000000000001" fill="#f0f"/>
<circle cx="305.7" cy="2012.2" r="10.450000000000001" fill="#f0f"/>
<circle cx="328.8" cy="2017.9" r="10.450000000000001" fill="#f0f"/>
<circle cx="314.4" cy="2023.7" r="10.450000000000001" fill="#f0f"/>
<circle cx="356.3" cy="2019.4" r="10.450000000000001" fill="#f0f"/>
<circle cx="360.6" cy="2033.8" r="10.450000000000001" fill="#f0f"/>
<circle cx="379.4" cy="2038.2" r="10.450000000000001" fill="#f0f"/>
<circle cx="389.5" cy="2042.5" r="10.450000000000001" fill="#f0f"/>
<circle cx="288.4" cy="2009.3" r="10.450000000000001" fill="#f0f"/>
<circle cx="344.7" cy="2028.1" r="10.450000000000001" fill="#f0f"/>
<circle cx="372.2" cy="1991.9" r="10.450000000000001" fill="#f0f"/>
<circle cx="389.5" cy="1989.0" r="10.450000000000001" fill="#f0f"/>
<circle cx="377.9" cy="2000.6" r="10.450000000000001" fill="#f0f"/>
<circle cx="411.2" cy="2013.6" r="10.450000000000001" fill="#f0f"/>
<circle cx="418.4" cy="2015.1" r="10.450000000000001" fill="#f0f"/>
<circle cx="401.1" cy="1952.9" r="10.450000000000001" fill="#f0f"/>
<circle cx="415.5" cy="1963.0" r="10.450000000000001" fill="#f0f"/>
<circle cx="414.1" cy="1977.5" r="10.450000000000001" fill="#f0f"/>
<circle cx="408.3" cy="1960.1" r="10.450000000000001" fill="#f0f"/>
<path d="M331.7 2029.5L363.5 2058.4" stroke="#f0f" stroke-width="6.6000000000000005"/>
<path d="M346.2 2036.7L360.6 2055.5" stroke="#f0f" stroke-width="5.5"/>
<path d="M389.5 1989.0L430.0 2006.4" stroke="#f0f" stroke-width="6.6000000000000005"/>
<path d="M396.7 1999.2L425.6 2015.1" stroke="#f0f" stroke-width="6.6000000000000005"/>
<path d="M401.1 1952.9L428.5 1937.0" stroke="#f0f" stroke-width="5.5"/>
<path d="M418.4 1965.9L438.6 1964.5" stroke="#f0f" stroke-width="5.5"/>
<path d="M418.4 1974.6L434.3 1976.0" stroke="#f0f" stroke-width="5.5"/>
<circle cx="266.7" cy="2032.4" r="11.0" fill="#f0f"/>
<circle cx="281.1" cy="2036.7" r="11.0" fill="#f0f"/>
<circle cx="250.8" cy="2032.4" r="11.0" fill="#f0f"/>
<circle cx="250.8" cy="2062.7" r="11.0" fill="#f0f"/>
<path d="M262.3 2044.0L272.5 2071.4" stroke="#f0f" stroke-width="6.6000000000000005"/>
<path d="M281.1 2048.3L298.5 2083.0" stroke="#f0f" stroke-width="6.6000000000000005"/>
<path d="M288.4 2044.0L295.6 2054.1" stroke="#f0f" stroke-width="5.5"/>
<path d="M134.6 2039.6L74.6 2004.2" stroke="#f00" stroke-width="4.95"/>
<circle cx="134.6" cy="2039.6" r="8.8" fill="#f00"/>
<path d="M136.8 1950.0L183.7 2012.2" stroke="#f00" stroke-width="6.6000000000000005"/>
<circle cx="185.9" cy="2016.5" r="7.700000000000001" fill="#f00"/>
<path d="M67.4 2060.6L114.4 2060.6" stroke="#f00" stroke-width="3.3000000000000003"/>
<circle cx="215.5" cy="1915.3" r="7.700000000000001" fill="#f00"/>
<path d="M214.1 1918.2L232.9 1965.9" stroke="#f00" stroke-width="5.5"/>
<path d="M222.7 1919.7L237.2 1945.7" stroke="#f00" stroke-width="5.5"/>
<circle cx="234.3" cy="1945.7" r="7.700000000000001" fill="#f00"/>
<circle cx="86.9" cy="2110.4" r="10.450000000000001" fill="#f00"/>
<circle cx="105.7" cy="2107.5" r="10.450000000000001" fill="#f00"/>
<circle cx="95.6" cy="2116.2" r="10.450000000000001" fill="#f00"/>
<circle cx="88.4" cy="2103.2" r="10.450000000000001" fill="#f00"/>
<circle cx="108.6" cy="2114.8" r="10.450000000000001" fill="#f00"/>
<circle cx="137.5" cy="2098.9" r="10.450000000000001" fill="#f00"/>
<path d="M131.7 2110.4L130.3 2133.6" stroke="#f00" stroke-width="5.5"/>
<path d="M149.0 2110.4L147.6 2135.0" stroke="#f00" stroke-width="5.5"/>
<path d="M137.5 2110.4L133.2 2124.9" stroke="#f00" stroke-width="5.5"/>
<circle cx="156.3" cy="2072.9" r="10.450000000000001" fill="#f00"/>
<circle cx="175.1" cy="2055.5" r="10.450000000000001" fill="#f00"/>
<circle cx="202.5" cy="2055.5" r="10.450000000000001" fill="#f00"/>
<path d="M172.2 2065.6L167.8 2137.9" stroke="#f00" stroke-width="5.5"/>
<path d="M179.4 2065.6L177.9 2133.6" stroke="#f00" stroke-width="5.5"/>
<path d="M192.4 2058.4L195.3 2139.3" stroke="#f00" stroke-width="6.6000000000000005"/>
<path d="M204.0 2072.9L204.0 2139.3" stroke="#f00" stroke-width="5.5"/>
<circle cx="175.1" cy="2110.4" r="10.450000000000001" fill="#f00"/>
<circle cx="201.1" cy="2091.6" r="11.55" fill="#f00"/>
<circle cx="222.7" cy="2093.1" r="10.450000000000001" fill="#f00"/>
<path d="M222.7 2093.1L225.6 2107.5" stroke="#f00" stroke-width="6.6000000000000005"/>
<circle cx="235.8" cy="2041.1" r="10.450000000000001" fill="#f00"/>
<circle cx="244.4" cy="2013.6" r="10.450000000000001" fill="#f00"/>
<path d="M231.4 2072.9L243.0 2098.9" stroke="#f00" stroke-width="6.6000000000000005"/>
<circle cx="249.3" cy="2007.8" r="11.0" fill="#f00"/>
<circle cx="253.7" cy="2017.9" r="11.0" fill="#f00"/>
<circle cx="307.1" cy="2051.2" r="11.0" fill="#f00"/>
<circle cx="314.4" cy="2058.4" r="11.0" fill="#f00"/>
<circle cx="299.9" cy="2065.6" r="11.0" fill="#f00"/>
<circle cx="273.9" cy="2072.9" r="11.0" fill="#f00"/>
<circle cx="281.1" cy="2090.2" r="11.0" fill="#f00"/>
<circle cx="302.8" cy="2080.1" r="11.0" fill="#f00"/>
<circle cx="317.3" cy="2072.9" r="11.0" fill="#f00"/>
<circle cx="325.9" cy="2087.3" r="11.0" fill="#f00"/>
<circle cx="356.3" cy="2068.5" r="11.0" fill="#f00"/>
<circle cx="346.2" cy="2078.6" r="11.0" fill="#f00"/>
<circle cx="338.9" cy="2087.3" r="11.0" fill="#f00"/>
<circle cx="253.7" cy="2087.3" r="11.0" fill="#f00"/>
<circle cx="302.8" cy="2107.5" r="11.0" fill="#f00"/>
<circle cx="288.4" cy="2077.2" r="11.0" fill="#f00"/>
<circle cx="268.1" cy="2087.3" r="11.0" fill="#f00"/>
<circle cx="312.9" cy="2090.2" r="11.0" fill="#f00"/>
<circle cx="366.4" cy="2081.5" r="3.3000000000000003" fill="#f00"/>
<circle cx="337.5" cy="2097.4" r="3.3000000000000003" fill="#f00"/>
<circle cx="320.1" cy="2107.5" r="3.3000000000000003" fill="#f00"/>
<circle cx="286.9" cy="2122.0" r="3.3000000000000003" fill="#f00"/>
<circle cx="255.1" cy="2130.7" r="3.3000000000000003" fill="#f00"/>
<path d="M353.4 2072.9L338.9 2098.9" stroke="#f00" stroke-width="5.5"/>
<path d="M331.7 2080.1L320.1 2107.5" stroke="#f00" stroke-width="5.5"/>
<path d="M302.8 2094.5L307.1 2110.4" stroke="#f00" stroke-width="6.6000000000000005"/>
<path d="M282.6 2101.8L286.9 2122.0" stroke="#f00" stroke-width="6.6000000000000005"/>
<path d="M252.2 2094.5L255.1 2130.7" stroke="#f00" stroke-width="5.5"/>
<path d="M258.0 2101.8L260.9 2116.2" stroke="#f00" stroke-width="5.5"/>
<path d="M292.7 2101.8L295.6 2116.2" stroke="#f00" stroke-width="6.6000000000000005"/>
<path d="M211.0 1911.5L258.5 2019.0" stroke="#f00" stroke-width="5.5"/>
<path d="M221.0 1915.0L246.0 1972.0" stroke="#f00" stroke-width="4.4"/>
<path d="M95.6 2029.5L66.7 2015.8" stroke="#00e" stroke-width="5.5"/>
<circle cx="95.6" cy="2029.5" r="9.9" fill="#00e"/>
<path d="M92.7 2028.1L73.9 2017.9" stroke="#00e" stroke-width="4.4"/>
<path d="M85.5 1988.3L120.1 2015.1" stroke="#00e" stroke-width="5.5"/>
<path d="M95.6 1981.1L123.0 2009.3" stroke="#00e" stroke-width="5.5"/>
<path d="M99.9 1984.7L125.9 2010.7" stroke="#00e" stroke-width="5.5"/>
<circle cx="85.5" cy="1988.3" r="3.3000000000000003" fill="#00e"/>
<circle cx="95.6" cy="1981.1" r="3.3000000000000003" fill="#00e"/>
<circle cx="99.9" cy="1984.7" r="3.3000000000000003" fill="#00e"/>
<circle cx="66.7" cy="2015.8" r="3.3000000000000003" fill="#00e"/>
<circle cx="121.6" cy="2019.4" r="10.450000000000001" fill="#00e"/>
<circle cx="137.5" cy="2019.4" r="10.450000000000001" fill="#00e"/>
<path d="M121.6 1955.8L134.6 1971.7" stroke="#00e" stroke-width="5.5"/>
<path d="M128.1 1952.2L140.4 1968.8" stroke="#00e" stroke-width="5.5"/>
<circle cx="121.6" cy="1955.8" r="3.3000000000000003" fill="#00e"/>
<circle cx="128.1" cy="1952.2" r="3.3000000000000003" fill="#00e"/>
<circle cx="134.6" cy="1974.6" r="10.450000000000001" fill="#00e"/>
<circle cx="149.0" cy="1983.3" r="10.450000000000001" fill="#00e"/>
<circle cx="154.8" cy="2000.6" r="10.450000000000001" fill="#00e"/>
<circle cx="169.3" cy="2012.2" r="10.450000000000001" fill="#00e"/>
<circle cx="160.6" cy="1952.9" r="10.450000000000001" fill="#00e"/>
<circle cx="169.3" cy="1965.9" r="10.450000000000001" fill="#00e"/>
<circle cx="183.7" cy="1957.3" r="10.450000000000001" fill="#00e"/>
<circle cx="189.5" cy="1971.7" r="10.450000000000001" fill="#00e"/>
<circle cx="191.0" cy="1997.7" r="10.450000000000001" fill="#00e"/>
<circle cx="204.0" cy="1978.9" r="10.450000000000001" fill="#00e"/>
<circle cx="225.6" cy="1978.9" r="10.450000000000001" fill="#00e"/>
<circle cx="234.3" cy="1983.3" r="10.450000000000001" fill="#00e"/>
<circle cx="179.4" cy="1983.3" r="10.450000000000001" fill="#00e"/>
<circle cx="215.5" cy="1977.5" r="10.450000000000001" fill="#00e"/>
<path d="M153.4 1936.3L167.8 1952.9" stroke="#00e" stroke-width="5.5"/>
<path d="M173.6 1928.4L182.3 1942.8" stroke="#00e" stroke-width="5.5"/>
<circle cx="153.4" cy="1936.3" r="3.3000000000000003" fill="#00e"/>
<circle cx="173.6" cy="1928.4" r="3.3000000000000003" fill="#00e"/>
<path d="M191.0 1928.4L198.2 1945.7" stroke="#00e" stroke-width="5.5"/>
<path d="M204.0 1932.7L212.6 1965.9" stroke="#00e" stroke-width="5.5"/>
<path d="M216.2 1935.6L224.2 1968.8" stroke="#00e" stroke-width="5.5"/>
<circle cx="183.7" cy="1971.7" r="4.4" fill="#f0f"/>
<circle cx="195.3" cy="1965.9" r="3.8500000000000005" fill="#f0f"/>
<path d="M269.6 1905.2L273.9 1965.9" stroke="#00e" stroke-width="5.5"/>
<circle cx="273.9" cy="1974.6" r="10.450000000000001" fill="#00e"/>
<circle cx="286.9" cy="1970.3" r="10.450000000000001" fill="#00e"/>
<circle cx="265.2" cy="1980.4" r="10.450000000000001" fill="#00e"/>
<circle cx="278.2" cy="1991.9" r="10.450000000000001" fill="#00e"/>
<circle cx="302.8" cy="1945.7" r="10.450000000000001" fill="#00e"/>
<circle cx="302.8" cy="1960.1" r="10.450000000000001" fill="#00e"/>
<path d="M310.0 1918.2L302.8 1942.8" stroke="#00e" stroke-width="6.6000000000000005"/>
<path d="M324.5 1948.6L334.6 1928.4" stroke="#00e" stroke-width="5.5"/>
<circle cx="324.5" cy="1948.6" r="11.0" fill="#00e"/>
<path d="M84.0 2056.2L80.6 2073.2L81.3 2088.8L86.2 2102.7L95.0 2114.4L107.6 2123.8L123.6 2130.5M84.0 2056.2L76.3 2070.9L72.9 2084.4L73.8 2096.1L79.0 2106.0L88.3 2113.6M84.0 2056.2L73.0 2067.2L66.4 2077.0L64.2 2085.3L66.6 2091.9M84.0 2056.2L71.0 2062.3L62.4 2067.3L58.3 2071.1L58.9 2073.6M84.0 2056.2L70.4 2056.8L61.2 2056.4L56.7 2055.1L56.8 2052.9M84.0 2056.2L71.4 2051.2L63.1 2045.3L59.4 2038.8L60.4 2031.7M84.0 2056.2L73.8 2046.0L67.9 2035.1L66.4 2023.8L69.4 2012.3L76.8 2000.9M84.0 2056.2L77.4 2041.8L75.0 2026.8L76.8 2011.5L82.9 1996.4L93.0 1981.8L106.9 1968.1M84.0 2056.2L81.8 2038.9L83.7 2021.1L89.7 2003.2L99.5 1985.6L113.0 1968.8L129.9 1953.3L149.6 1939.2L171.8 1927.2L195.8 1917.3M84.0 2056.2L86.7 2037.7L93.3 2018.7L103.7 1999.7L117.7 1981.1L134.9 1963.3L154.9 1947.0L177.2 1932.3L201.3 1919.8L226.4 1909.6L252.2 1902.1L277.8 1897.4L302.7 1895.7M84.0 2056.2L91.4 2038.2L102.7 2019.8L117.6 2001.2L135.7 1983.1L156.6 1965.8L179.7 1949.8L204.5 1935.4L230.3 1923.1L256.6 1913.0L282.7 1905.6L308.0 1900.9L331.8 1899.0L353.5 1900.1L372.6 1904.1L388.6 1910.8M84.0 2056.2L95.7 2040.5L111.1 2024.2L130.0 2007.8L151.7 1991.6L175.8 1976.0L201.7 1961.5L228.7 1948.3L256.2 1936.8L283.5 1927.3L309.9 1920.0L334.8 1915.1L357.6 1912.8L377.7 1913.0L394.6 1915.7L407.9 1921.0L417.2 1928.6M84.0 2056.2L99.0 2044.2L117.7 2031.6L139.6 2018.7L164.1 2005.7L190.7 1992.9L218.8 1980.8L247.5 1969.6L276.3 1959.6L304.4 1950.9L331.1 1944.0L355.7 1938.8L377.7 1935.5L396.5 1934.3L411.7 1935.1L422.8 1937.9L429.6 1942.7L432.0 1949.3M84.0 2056.2L101.0 2049.1L121.7 2041.3L145.5 2032.8L171.8 2024.0L199.9 2015.0L229.3 2006.0L259.1 1997.4L288.7 1989.2L317.2 1981.7L344.1 1975.1L368.6 1969.5L390.1 1965.1L408.1 1962.0L422.2 1960.3L432.0 1959.9L437.3 1961.0L437.9 1963.5M84.0 2056.2L101.6 2054.6L122.8 2052.1L147.1 2048.8L173.9 2044.7L202.5 2039.9L232.2 2034.5L262.4 2028.8L292.1 2022.7L320.8 2016.5L347.7 2010.4L372.2 2004.4L393.6 1998.7L411.4 1993.4L425.1 1988.8L434.6 1984.9L439.4 1981.7L439.5 1979.5M84.0 2056.2L100.6 2060.3L120.9 2063.3L144.3 2065.1L170.3 2065.8L198.2 2065.3L227.3 2063.6L256.9 2060.8L286.3 2056.9L314.8 2052.0L341.6 2046.3L366.1 2039.9L387.7 2032.9L405.9 2025.5L420.2 2017.9L430.2 2010.3L435.8 2002.9L436.8 1995.8M84.0 2056.2L98.3 2065.4L116.2 2073.5L137.4 2080.2L161.3 2085.3L187.4 2088.7L214.9 2090.4L243.3 2090.3L271.8 2088.4L299.7 2084.7L326.3 2079.4L351.0 2072.5L373.2 2064.3L392.3 2055.0L407.8 2044.7L419.4 2033.7L426.8 2022.3M84.0 2056.2L94.7 2069.7L109.1 2081.8L127.0 2092.4L147.8 2101.2L171.1 2107.8L196.4 2112.3L222.8 2114.4L250.0 2114.1L277.0 2111.4L303.4 2106.4L328.4 2099.2L351.4 2090.0L371.8 2079.0L389.3 2066.5L403.2 2052.8M84.0 2056.2L90.2 2072.5L100.4 2087.5L114.1 2100.7L131.2 2111.9L151.1 2120.8L173.4 2127.1L197.6 2130.7L223.0 2131.5L249.0 2129.5L275.0 2124.7L300.4 2117.3L324.4 2107.4M84.0 2056.2L85.4 2073.7L90.8 2089.9L100.0 2104.3L113.0 2116.5L129.2 2126.3L148.4 2133.4L170.0 2137.6L193.5 2138.9L218.4 2137.2M80.6 2073.2L76.3 2070.9L73.0 2067.2L71.0 2062.3L70.4 2056.8L71.4 2051.2L73.8 2046.0L77.4 2041.8L81.8 2038.9L86.7 2037.7L91.4 2038.2L95.7 2040.5L99.0 2044.2L101.0 2049.1L101.6 2054.6L100.6 2060.3L98.3 2065.4L94.7 2069.7L90.2 2072.5L85.4 2073.7L80.6 2073.2M81.3 2088.8L72.9 2084.4L66.4 2077.0L62.4 2067.3L61.2 2056.4L63.1 2045.3L67.9 2035.1L75.0 2026.8L83.7 2021.1L93.3 2018.7L102.7 2019.8L111.1 2024.2L117.7 2031.6L121.7 2041.3L122.8 2052.1L120.9 2063.3L116.2 2073.5L109.1 2081.8L100.4 2087.5L90.8 2089.9L81.3 2088.8M86.2 2102.7L73.8 2096.1L64.2 2085.3L58.3 2071.1L56.7 2055.1L59.4 2038.8L66.4 2023.8L76.8 2011.5L89.7 2003.2L103.7 1999.7L117.6 2001.2L130.0 2007.8L139.6 2018.7L145.5 2032.8L147.1 2048.8L144.3 2065.1L137.4 2080.2L127.0 2092.4L114.1 2100.7L100.0 2104.3L86.2 2102.7M95.0 2114.4L79.0 2106.0L66.6 2091.9M69.4 2012.3L82.9 1996.4L99.5 1985.6L117.7 1981.1L135.7 1983.1L151.7 1991.6L164.1 2005.7L171.8 2024.0L173.9 2044.7L170.3 2065.8L161.3 2085.3L147.8 2101.2L131.2 2111.9L113.0 2116.5L95.0 2114.4M107.6 2123.8L88.3 2113.6M93.0 1981.8L113.0 1968.8L134.9 1963.3L156.6 1965.8L175.8 1976.0L190.7 1992.9L199.9 2015.0L202.5 2039.9L198.2 2065.3L187.4 2088.7L171.1 2107.8L151.1 2120.8L129.2 2126.3L107.6 2123.8M129.9 1953.3L154.9 1947.0L179.7 1949.8L201.7 1961.5L218.8 1980.8L229.3 2006.0L232.2 2034.5L227.3 2063.6L214.9 2090.4L196.4 2112.3L173.4 2127.1L148.4 2133.4L123.6 2130.5M149.6 1939.2L177.2 1932.3L204.5 1935.4L228.7 1948.3L247.5 1969.6L259.1 1997.4L262.4 2028.8L256.9 2060.8L243.3 2090.3L222.8 2114.4L197.6 2130.7L170.0 2137.6L142.7 2134.5M171.8 1927.2L201.3 1919.8L230.3 1923.1L256.2 1936.8L276.3 1959.6L288.7 1989.2L292.1 2022.7L286.3 2056.9L271.8 2088.4L250.0 2114.1L223.0 2131.5L193.5 2138.9L164.4 2135.6M226.4 1909.6L256.6 1913.0L283.5 1927.3L304.4 1950.9L317.2 1981.7L320.8 2016.5L314.8 2052.0L299.7 2084.7L277.0 2111.4L249.0 2129.5L218.4 2137.2M252.2 1902.1L282.7 1905.6L309.9 1920.0L331.1 1944.0L344.1 1975.1L347.7 2010.4L341.6 2046.3L326.3 2079.4L303.4 2106.4L275.0 2124.7L244.0 2132.5M277.8 1897.4L308.0 1900.9L334.8 1915.1L355.7 1938.8L368.6 1969.5L372.2 2004.4L366.1 2039.9L351.0 2072.5L328.4 2099.2L300.4 2117.3L269.8 2125.0M331.8 1899.0L357.6 1912.8L377.7 1935.5L390.1 1965.1L393.6 1998.7L387.7 2032.9L373.2 2064.3L351.4 2090.0L324.4 2107.4M353.5 1900.1L377.7 1913.0L396.5 1934.3L408.1 1962.0L411.4 1993.4L405.9 2025.5L392.3 2055.0L371.8 2079.0L346.6 2095.4M372.6 1904.1L394.6 1915.7L411.7 1935.1L422.2 1960.3L425.1 1988.8L420.2 2017.9L407.8 2044.7L389.3 2066.5L366.3 2081.3M407.9 1921.0L422.8 1937.9L432.0 1959.9L434.6 1984.9L430.2 2010.3L419.4 2033.7L403.2 2052.8M429.6 1942.7L437.3 1961.0L439.4 1981.7L435.8 2002.9L426.8 2022.3" stroke="#969696" stroke-width="1.35" stroke-linejoin="round"/>
</g>
<g id="chartA">
<rect x="806.0" y="600.0" width="48.2" height="137.6" fill="#555" stroke="#000" stroke-width="2.2"/>
<rect x="854.2" y="537.1" width="49.0" height="200.5" fill="#fff" stroke="#000" stroke-width="2.2"/>
<rect x="937.8" y="525.0" width="49.6" height="212.6" fill="#555" stroke="#000" stroke-width="2.2"/>
<rect x="987.4" y="575.3" width="48.0" height="162.3" fill="#fff" stroke="#000" stroke-width="2.2"/>
<rect x="1067.8" y="498.5" width="49.4" height="239.1" fill="#555" stroke="#000" stroke-width="2.2"/>
<rect x="1117.2" y="554.9" width="48.2" height="182.7" fill="#fff" stroke="#000" stroke-width="2.2"/>
<rect x="1202.6" y="551.8" width="48.6" height="185.8" fill="#555" stroke="#000" stroke-width="2.2"/>
<rect x="1251.2" y="587.0" width="49.0" height="150.6" fill="#fff" stroke="#000" stroke-width="2.2"/>
<path d="M829.8 565.7V636.4M820.4 565.7H839.2M820.4 636.4H839.2" stroke="#000" stroke-width="1.7" fill="none"/>
<path d="M878.4 504.2V570.5M869.0 504.2H887.8M869.0 570.5H887.8" stroke="#000" stroke-width="1.7" fill="none"/>
<path d="M962.0 512.8V538.4M952.6 512.8H971.4M952.6 538.4H971.4" stroke="#000" stroke-width="1.7" fill="none"/>
<path d="M1010.6 558.4V592.2M1001.2 558.4H1020.0M1001.2 592.2H1020.0" stroke="#000" stroke-width="1.7" fill="none"/>
<path d="M1092.9 462.5V534.5M1083.5 462.5H1102.3M1083.5 534.5H1102.3" stroke="#000" stroke-width="1.7" fill="none"/>
<path d="M1140.6 535.4V576.1M1131.2 535.4H1150.0M1131.2 576.1H1150.0" stroke="#000" stroke-width="1.7" fill="none"/>
<path d="M1226.5 528.0V577.0M1217.1 528.0H1235.9M1217.1 577.0H1235.9" stroke="#000" stroke-width="1.7" fill="none"/>
<path d="M1275.9 570.9V604.3M1266.5 570.9H1285.3M1266.5 604.3H1285.3" stroke="#000" stroke-width="1.7" fill="none"/>
<rect x="764.4" y="84.8" width="584.4" height="652.8" fill="none" stroke="#000" stroke-width="2"/>
<path d="M764.4 607.0h7M1348.8 607.0h-7M764.4 476.5h7M1348.8 476.5h-7M764.4 345.9h7M1348.8 345.9h-7M764.4 215.4h7M1348.8 215.4h-7M861.3 84.8v7M991.0 84.8v7M1121.0 84.8v7M1251.0 84.8v7" stroke="#000" stroke-width="1.6" fill="none"/>
<text transform="translate(747.4 758.3) scale(1 1.04)" font-size="51.5" text-anchor="end" fill="#262626">0</text>
<text transform="translate(739.8 623.7) scale(1 1.04)" font-size="51.5" text-anchor="end" fill="#000">20</text>
<text transform="translate(739.8 491.5) scale(1 1.04)" font-size="51.5" text-anchor="end" fill="#000">40</text>
<text transform="translate(739.8 357.3) scale(1 1.04)" font-size="51.5" text-anchor="end" fill="#000">60</text>
<text transform="translate(739.8 228.5) scale(1 1.04)" font-size="51.5" text-anchor="end" fill="#000">80</text>
<clipPath id="clipA"><rect x="665.8" y="47.3" width="5.5" height="80"/><rect x="682.5" y="47.3" width="120" height="80"/></clipPath>
<g clip-path="url(#clipA)"><text transform="translate(739.8 105.7) scale(1 1.04)" font-size="51.5" text-anchor="end" fill="#000">100</text></g>
<text transform="translate(854.9 806.0) scale(1 1.04)" font-size="51.5" text-anchor="middle" fill="#1a1a1a">X</text>
<text transform="translate(986.6 806.0) scale(1 1.04)" font-size="51.5" text-anchor="middle" fill="#1a1a1a">2L</text>
<text transform="translate(1116.7 806.0) scale(1 1.04)" font-size="51.5" text-anchor="middle" fill="#1a1a1a">3R</text>
<text transform="translate(1250.7 806.0) scale(1 1.04)" font-size="51.5" text-anchor="middle" fill="#1a1a1a">3L</text>
<text transform="translate(1056.6 68.2) scale(1 1.028)" font-size="57" font-weight="bold" text-anchor="middle" textLength="362.4" lengthAdjust="spacingAndGlyphs">NE contact %</text>
<text transform="translate(653.0 405.7) rotate(-90)" font-size="55.6" text-anchor="middle" fill="#222">% signal contact</text>
<rect x="922.7" y="114.6" width="398.0" height="125.2" fill="#fff" stroke="#000" stroke-width="1.5"/>
<rect x="930.5" y="124.9" width="87.9" height="46.6" fill="#555" stroke="#000" stroke-width="1.5"/>
<rect x="930.5" y="183.6" width="87.9" height="46.3" fill="#fff" stroke="#000" stroke-width="1.5"/>
<text x="1024.7" y="165.9" font-size="46.7">salivary gland</text>
<text x="1024.2" y="225.8" font-size="46.7">nurse cells</text>
</g>
<g id="chartB">
<rect x="792.9" y="1387.0" width="49.0" height="159.3" fill="#555" stroke="#000" stroke-width="2.2"/>
<rect x="841.9" y="1357.5" width="51.2" height="188.8" fill="#fff" stroke="#000" stroke-width="2.2"/>
<rect x="930.8" y="1340.6" width="50.7" height="205.7" fill="#555" stroke="#000" stroke-width="2.2"/>
<rect x="981.5" y="1377.9" width="49.9" height="168.4" fill="#fff" stroke="#000" stroke-width="2.2"/>
<rect x="1064.8" y="1303.8" width="51.6" height="242.5" fill="#555" stroke="#000" stroke-width="2.2"/>
<rect x="1116.4" y="1414.7" width="48.9" height="131.6" fill="#fff" stroke="#000" stroke-width="2.2"/>
<rect x="1199.6" y="1348.8" width="50.7" height="197.5" fill="#555" stroke="#000" stroke-width="2.2"/>
<rect x="1250.3" y="1352.7" width="49.9" height="193.6" fill="#fff" stroke="#000" stroke-width="2.2"/>
<path d="M817.2 1361.0V1415.2M807.8 1361.0H826.6M807.8 1415.2H826.6" stroke="#000" stroke-width="1.7" fill="none"/>
<path d="M867.5 1330.6V1386.1M858.1 1330.6H876.9M858.1 1386.1H876.9" stroke="#000" stroke-width="1.7" fill="none"/>
<path d="M956.0 1316.8V1367.0M946.6 1316.8H965.4M946.6 1367.0H965.4" stroke="#000" stroke-width="1.7" fill="none"/>
<path d="M1005.4 1359.7V1396.1M996.0 1359.7H1014.8M996.0 1396.1H1014.8" stroke="#000" stroke-width="1.7" fill="none"/>
<path d="M1089.9 1280.3V1328.9M1080.5 1280.3H1099.3M1080.5 1328.9H1099.3" stroke="#000" stroke-width="1.7" fill="none"/>
<path d="M1140.2 1399.6V1431.2M1130.8 1399.6H1149.6M1130.8 1431.2H1149.6" stroke="#000" stroke-width="1.7" fill="none"/>
<path d="M1224.7 1319.4V1378.3M1215.3 1319.4H1234.1M1215.3 1378.3H1234.1" stroke="#000" stroke-width="1.7" fill="none"/>
<path d="M1275.5 1339.7V1366.2M1266.1 1339.7H1284.9M1266.1 1366.2H1284.9" stroke="#000" stroke-width="1.7" fill="none"/>
<rect x="748.5" y="893.8" width="602.3" height="652.5" fill="none" stroke="#000" stroke-width="2"/>
<path d="M748.5 1415.8h7M1350.8 1415.8h-7M748.5 1285.3h7M1350.8 1285.3h-7M748.5 1154.8h7M1350.8 1154.8h-7M748.5 1024.3h7M1350.8 1024.3h-7M848.0 893.8v7M982.1 893.8v7M1115.3 893.8v7M1250.1 893.8v7" stroke="#000" stroke-width="1.6" fill="none"/>
<text transform="translate(731.4 1567.2) scale(1 1.04)" font-size="51.5" text-anchor="end" fill="#262626">0</text>
<text transform="translate(728.5 1435.7) scale(1 1.04)" font-size="51.5" text-anchor="end" fill="#000">20</text>
<text transform="translate(728.5 1303.4) scale(1 1.04)" font-size="51.5" text-anchor="end" fill="#000">40</text>
<text transform="translate(728.5 1169.6) scale(1 1.04)" font-size="51.5" text-anchor="end" fill="#000">60</text>
<text transform="translate(728.5 1040.5) scale(1 1.04)" font-size="51.5" text-anchor="end" fill="#000">80</text>
<clipPath id="clipB"><rect x="654.7" y="860.1" width="5.3" height="80"/><rect x="671.2" y="860.1" width="120" height="80"/></clipPath>
<g clip-path="url(#clipB)"><text transform="translate(728.5 918.5) scale(1 1.04)" font-size="51.5" text-anchor="end" fill="#000">100</text></g>
<text transform="translate(842.8 1615.4) scale(1 1.04)" font-size="51.5" text-anchor="middle" fill="#1a1a1a">X</text>
<text transform="translate(980.6 1615.4) scale(1 1.04)" font-size="51.5" text-anchor="middle" fill="#1a1a1a">2L</text>
<text transform="translate(1115.8 1615.4) scale(1 1.04)" font-size="51.5" text-anchor="middle" fill="#1a1a1a">3R</text>
<text transform="translate(1249.8 1615.4) scale(1 1.04)" font-size="51.5" text-anchor="middle" fill="#1a1a1a">3L</text>
<text transform="translate(1048.9 876.4) scale(1 1.028)" font-size="57" font-weight="bold" text-anchor="middle" textLength="364.3" lengthAdjust="spacingAndGlyphs">NE contact %</text>
<text transform="translate(636.7 1216.7) rotate(-90)" font-size="56.3" text-anchor="middle" fill="#222">% signal contact</text>
<rect x="923.9" y="923.4" width="396.8" height="124.9" fill="#fff" stroke="#000" stroke-width="1.5"/>
<rect x="931.7" y="933.7" width="87.9" height="46.6" fill="#555" stroke="#000" stroke-width="1.5"/>
<rect x="931.7" y="992.4" width="87.9" height="46.3" fill="#fff" stroke="#000" stroke-width="1.5"/>
<text x="1025.9" y="974.7" font-size="46.7">salivary gland</text>
<text x="1025.4" y="1034.6" font-size="46.7">nurse cells</text>
</g>
<g id="chartC">
<rect x="788.8" y="2137.9" width="50.2" height="221.4" fill="#555" stroke="#000" stroke-width="2.2"/>
<rect x="839.0" y="2207.8" width="50.2" height="151.5" fill="#fff" stroke="#000" stroke-width="2.2"/>
<rect x="927.2" y="2141.1" width="50.7" height="218.2" fill="#555" stroke="#000" stroke-width="2.2"/>
<rect x="977.9" y="2202.9" width="50.1" height="156.4" fill="#fff" stroke="#000" stroke-width="2.2"/>
<rect x="1061.6" y="2163.9" width="50.2" height="195.4" fill="#555" stroke="#000" stroke-width="2.2"/>
<rect x="1111.8" y="2181.8" width="50.2" height="177.5" fill="#fff" stroke="#000" stroke-width="2.2"/>
<rect x="1197.8" y="2105.7" width="50.2" height="253.6" fill="#555" stroke="#000" stroke-width="2.2"/>
<rect x="1248.0" y="2221.7" width="51.1" height="137.6" fill="#fff" stroke="#000" stroke-width="2.2"/>
<path d="M813.9 2104.8V2170.2M804.5 2104.8H823.3M804.5 2170.2H823.3" stroke="#000" stroke-width="1.7" fill="none"/>
<path d="M864.5 2173.8V2241.4M855.1 2173.8H873.9M855.1 2241.4H873.9" stroke="#000" stroke-width="1.7" fill="none"/>
<path d="M952.8 2122.7V2159.0M943.4 2122.7H962.2M943.4 2159.0H962.2" stroke="#000" stroke-width="1.7" fill="none"/>
<path d="M1002.5 2185.0V2223.1M993.1 2185.0H1011.9M993.1 2223.1H1011.9" stroke="#000" stroke-width="1.7" fill="none"/>
<path d="M1086.3 2143.8V2185.4M1076.9 2143.8H1095.7M1076.9 2185.4H1095.7" stroke="#000" stroke-width="1.7" fill="none"/>
<path d="M1136.9 2164.8V2200.2M1127.5 2164.8H1146.3M1127.5 2200.2H1146.3" stroke="#000" stroke-width="1.7" fill="none"/>
<path d="M1223.4 2071.6V2141.1M1214.0 2071.6H1232.8M1214.0 2141.1H1232.8" stroke="#000" stroke-width="1.7" fill="none"/>
<path d="M1274.0 2193.5V2252.2M1264.6 2193.5H1283.4M1264.6 2252.2H1283.4" stroke="#000" stroke-width="1.7" fill="none"/>
<rect x="746.3" y="1707.3" width="603.2" height="652.0" fill="none" stroke="#000" stroke-width="2"/>
<path d="M746.3 2228.9h7M1349.5 2228.9h-7M746.3 2098.5h7M1349.5 2098.5h-7M746.3 1968.1h7M1349.5 1968.1h-7M746.3 1837.7h7M1349.5 1837.7h-7M846.4 1707.3v7M980.8 1707.3v7M1114.0 1707.3v7M1248.2 1707.3v7" stroke="#000" stroke-width="1.6" fill="none"/>
<text transform="translate(729.9 2380.2) scale(1 1.04)" font-size="51.5" text-anchor="end" fill="#262626">0</text>
<text transform="translate(729.0 2250.5) scale(1 1.04)" font-size="51.5" text-anchor="end" fill="#000">20</text>
<text transform="translate(729.0 2118.0) scale(1 1.04)" font-size="51.5" text-anchor="end" fill="#000">40</text>
<text transform="translate(729.0 1984.2) scale(1 1.04)" font-size="51.5" text-anchor="end" fill="#000">60</text>
<text transform="translate(729.0 1855.4) scale(1 1.04)" font-size="51.5" text-anchor="end" fill="#000">80</text>
<clipPath id="clipC"><rect x="654.5" y="1674.9" width="6.0" height="80"/><rect x="671.7" y="1674.9" width="120" height="80"/></clipPath>
<g clip-path="url(#clipC)"><text transform="translate(729.0 1733.3) scale(1 1.04)" font-size="51.5" text-anchor="end" fill="#000">100</text></g>
<text transform="translate(839.9 2428.3) scale(1 1.04)" font-size="51.5" text-anchor="middle" fill="#1a1a1a">X</text>
<text transform="translate(977.2 2428.3) scale(1 1.04)" font-size="51.5" text-anchor="middle" fill="#1a1a1a">2L</text>
<text transform="translate(1112.5 2428.3) scale(1 1.04)" font-size="51.5" text-anchor="middle" fill="#1a1a1a">3R</text>
<text transform="translate(1248.7 2428.3) scale(1 1.04)" font-size="51.5" text-anchor="middle" fill="#1a1a1a">3L</text>
<text transform="translate(1047.6 1690.0) scale(1 1.028)" font-size="57" font-weight="bold" text-anchor="middle" textLength="363.7" lengthAdjust="spacingAndGlyphs">NE contact %</text>
<text transform="translate(634.8 2029.7) rotate(-90)" font-size="56.3" text-anchor="middle" fill="#222">% signal contact</text>
<rect x="922.7" y="1736.9" width="397.4" height="124.9" fill="#fff" stroke="#000" stroke-width="1.5"/>
<rect x="930.5" y="1747.2" width="87.9" height="46.6" fill="#555" stroke="#000" stroke-width="1.5"/>
<rect x="930.5" y="1805.9" width="87.9" height="46.3" fill="#fff" stroke="#000" stroke-width="1.5"/>
<text x="1024.7" y="1788.2" font-size="46.7">salivary gland</text>
<text x="1024.2" y="1848.1" font-size="46.7">nurse cells</text>
</g>
</svg></body></html>
